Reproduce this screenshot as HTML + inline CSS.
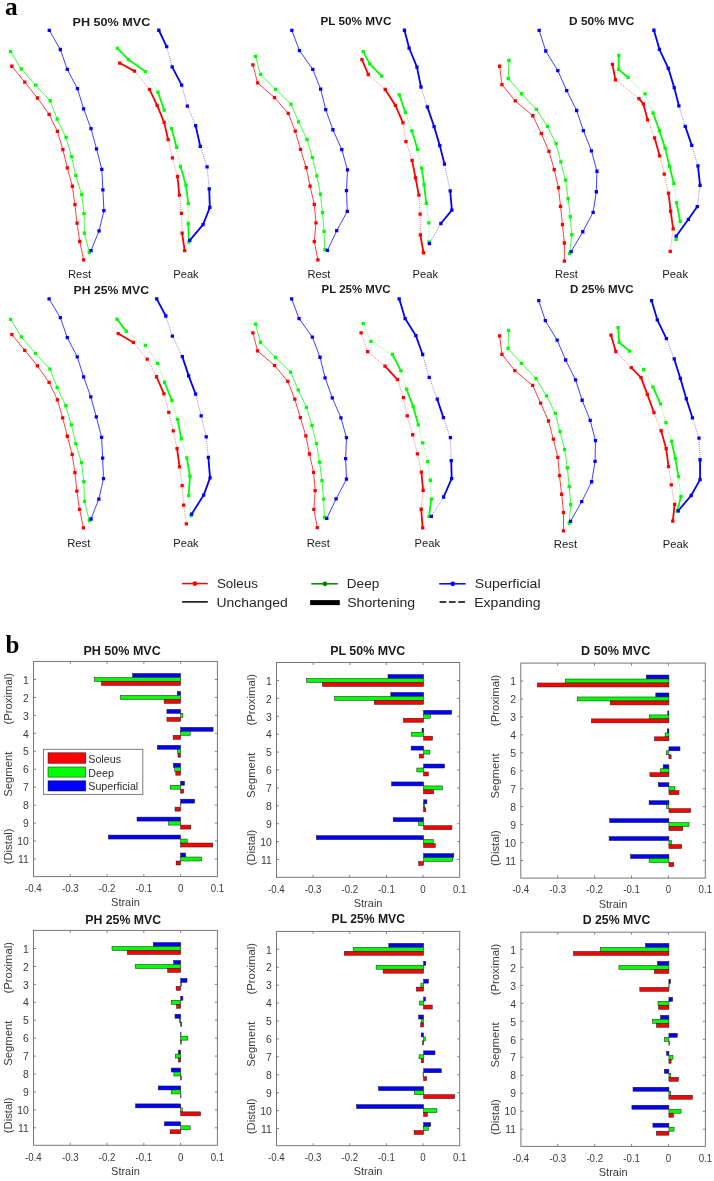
<!DOCTYPE html>
<html><head><meta charset="utf-8"><style>
html,body{margin:0;padding:0;background:#fff;}
svg{display:block;will-change:transform;}
</style></head><body>
<svg width="714" height="1181" viewBox="0 0 714 1181">
<rect width="714" height="1181" fill="#fff"/>
<path d="M11.85 66.24 L24.76 82.11 L37.46 97.99 L49.10 114.29 L57.35 131.43 L62.86 149.64 L67.30 167.84 L72.38 186.26 L74.92 204.68 L77.04 223.09 L79.79 241.51 L83.60 259.93" fill="none" stroke="#ff0000" stroke-width="0.75" stroke-linejoin="round"/>
<path d="M10.20 64.59h3.3v3.3h-3.3zM23.11 80.46h3.3v3.3h-3.3zM35.81 96.34h3.3v3.3h-3.3zM47.45 112.64h3.3v3.3h-3.3zM55.70 129.78h3.3v3.3h-3.3zM61.21 147.99h3.3v3.3h-3.3zM65.65 166.19h3.3v3.3h-3.3zM70.73 184.61h3.3v3.3h-3.3zM73.27 203.03h3.3v3.3h-3.3zM75.39 221.44h3.3v3.3h-3.3zM78.14 239.86h3.3v3.3h-3.3zM81.95 258.28h3.3v3.3h-3.3z" fill="#ff0000"/>
<path d="M10.58 51.63 L21.16 68.99 L35.34 85.08 L50.16 100.74 L57.14 119.16 L66.03 137.36 L71.53 156.63 L75.77 175.47 L81.69 194.52 L84.02 213.57 L84.44 233.26 L89.31 252.31" fill="none" stroke="#00ff00" stroke-width="0.75" stroke-linejoin="round"/>
<path d="M8.93 49.98h3.3v3.3h-3.3zM19.51 67.34h3.3v3.3h-3.3zM33.69 83.43h3.3v3.3h-3.3zM48.51 99.09h3.3v3.3h-3.3zM55.49 117.51h3.3v3.3h-3.3zM64.38 135.71h3.3v3.3h-3.3zM69.88 154.98h3.3v3.3h-3.3zM74.12 173.82h3.3v3.3h-3.3zM80.04 192.87h3.3v3.3h-3.3zM82.37 211.92h3.3v3.3h-3.3zM82.79 231.61h3.3v3.3h-3.3zM87.66 250.66h3.3v3.3h-3.3z" fill="#00ff00"/>
<path d="M49.31 30.46 L60.32 49.51 L67.30 69.41 L77.46 88.67 L83.60 108.78 L91.01 128.68 L96.51 148.79 L101.80 169.33 L102.86 189.86 L103.92 210.60 L99.05 230.93 L91.01 250.61" fill="none" stroke="#0000ff" stroke-width="0.75" stroke-linejoin="round"/>
<path d="M47.66 28.81h3.3v3.3h-3.3zM58.67 47.86h3.3v3.3h-3.3zM65.65 67.76h3.3v3.3h-3.3zM75.81 87.02h3.3v3.3h-3.3zM81.95 107.13h3.3v3.3h-3.3zM89.36 127.03h3.3v3.3h-3.3zM94.86 147.14h3.3v3.3h-3.3zM100.15 167.68h3.3v3.3h-3.3zM101.21 188.21h3.3v3.3h-3.3zM102.27 208.95h3.3v3.3h-3.3zM97.40 229.28h3.3v3.3h-3.3zM89.36 248.96h3.3v3.3h-3.3z" fill="#0000ff"/>
<path d="M134.50 71.10L149.52 89.31M168.15 139.69L172.38 157.90M172.38 157.90L177.46 176.52M179.37 195.15L181.48 213.36M181.48 213.36L182.12 233.04" fill="none" stroke="#ff0000" stroke-width="0.7" stroke-dasharray="0.9 1.1" opacity="0.75"/>
<path d="M119.68 63.06L134.50 71.10M149.52 89.31L157.14 105.40M157.14 105.40L164.13 122.33M164.13 122.33L168.15 139.69M177.46 176.52L179.37 195.15M182.12 233.04L184.66 250.61" fill="none" stroke="#ff0000" stroke-width="1.8" stroke-linecap="round"/>
<path d="M118.03 61.41h3.3v3.3h-3.3zM132.85 69.45h3.3v3.3h-3.3zM147.87 87.66h3.3v3.3h-3.3zM155.49 103.75h3.3v3.3h-3.3zM162.48 120.68h3.3v3.3h-3.3zM166.50 138.04h3.3v3.3h-3.3zM170.73 156.25h3.3v3.3h-3.3zM175.81 174.87h3.3v3.3h-3.3zM177.72 193.50h3.3v3.3h-3.3zM179.83 211.71h3.3v3.3h-3.3zM180.47 231.39h3.3v3.3h-3.3zM183.01 248.96h3.3v3.3h-3.3z" fill="#ff0000"/>
<path d="M145.29 71.53L157.99 92.27M164.13 110.05L171.53 128.68M176.61 147.31L180.42 166.36M188.25 203.62L188.25 223.52" fill="none" stroke="#00ff00" stroke-width="0.7" stroke-dasharray="0.9 1.1" opacity="0.75"/>
<path d="M117.35 48.45L128.57 59.67M128.57 59.67L145.29 71.53M157.99 92.27L164.13 110.05M171.53 128.68L176.61 147.31M180.42 166.36L185.93 185.20M185.93 185.20L188.25 203.62M188.25 223.52L188.89 242.15" fill="none" stroke="#00ff00" stroke-width="1.8" stroke-linecap="round"/>
<path d="M115.70 46.80h3.3v3.3h-3.3zM126.92 58.02h3.3v3.3h-3.3zM143.64 69.88h3.3v3.3h-3.3zM156.34 90.62h3.3v3.3h-3.3zM162.48 108.40h3.3v3.3h-3.3zM169.88 127.03h3.3v3.3h-3.3zM174.96 145.66h3.3v3.3h-3.3zM178.77 164.71h3.3v3.3h-3.3zM184.28 183.55h3.3v3.3h-3.3zM186.60 201.97h3.3v3.3h-3.3zM186.60 221.87h3.3v3.3h-3.3zM187.24 240.50h3.3v3.3h-3.3z" fill="#00ff00"/>
<path d="M166.67 46.55L172.17 66.87M181.69 85.08L187.41 106.03M187.41 106.03L195.66 125.72M200.32 146.46L207.09 166.79M207.09 166.79L209.21 188.80" fill="none" stroke="#0000ff" stroke-width="0.7" stroke-dasharray="0.9 1.1" opacity="0.75"/>
<path d="M158.84 30.25L166.67 46.55M172.17 66.87L181.69 85.08M195.66 125.72L200.32 146.46M209.21 188.80L209.84 207.43M209.84 207.43L203.07 224.58M203.07 224.58L189.74 240.45" fill="none" stroke="#0000ff" stroke-width="1.8" stroke-linecap="round"/>
<path d="M157.19 28.60h3.3v3.3h-3.3zM165.02 44.90h3.3v3.3h-3.3zM170.52 65.22h3.3v3.3h-3.3zM180.04 83.43h3.3v3.3h-3.3zM185.76 104.38h3.3v3.3h-3.3zM194.01 124.07h3.3v3.3h-3.3zM198.67 144.81h3.3v3.3h-3.3zM205.44 165.14h3.3v3.3h-3.3zM207.56 187.15h3.3v3.3h-3.3zM208.19 205.78h3.3v3.3h-3.3zM201.42 222.93h3.3v3.3h-3.3zM188.09 238.80h3.3v3.3h-3.3z" fill="#0000ff"/>
<path d="M252.91 64.97 L257.57 82.96 L274.50 97.57 L288.25 113.44 L295.24 131.22 L300.53 149.43 L306.24 167.63 L310.05 186.05 L314.29 204.47 L315.98 222.88 L314.29 241.72 L317.88 259.93" fill="none" stroke="#ff0000" stroke-width="0.75" stroke-linejoin="round"/>
<path d="M251.26 63.32h3.3v3.3h-3.3zM255.92 81.31h3.3v3.3h-3.3zM272.85 95.92h3.3v3.3h-3.3zM286.60 111.79h3.3v3.3h-3.3zM293.59 129.57h3.3v3.3h-3.3zM298.88 147.78h3.3v3.3h-3.3zM304.59 165.98h3.3v3.3h-3.3zM308.40 184.40h3.3v3.3h-3.3zM312.64 202.82h3.3v3.3h-3.3zM314.33 221.23h3.3v3.3h-3.3zM312.64 240.07h3.3v3.3h-3.3zM316.23 258.28h3.3v3.3h-3.3z" fill="#ff0000"/>
<path d="M255.45 56.29 L260.53 74.28 L275.56 89.31 L291.01 104.13 L298.62 121.91 L307.09 139.48 L312.38 157.68 L316.83 175.89 L320.42 194.09 L322.54 212.72 L324.02 231.35 L324.87 249.55" fill="none" stroke="#00ff00" stroke-width="0.75" stroke-linejoin="round"/>
<path d="M253.80 54.64h3.3v3.3h-3.3zM258.88 72.63h3.3v3.3h-3.3zM273.91 87.66h3.3v3.3h-3.3zM289.36 102.48h3.3v3.3h-3.3zM296.97 120.26h3.3v3.3h-3.3zM305.44 137.83h3.3v3.3h-3.3zM310.73 156.03h3.3v3.3h-3.3zM315.18 174.24h3.3v3.3h-3.3zM318.77 192.44h3.3v3.3h-3.3zM320.89 211.07h3.3v3.3h-3.3zM322.37 229.70h3.3v3.3h-3.3zM323.22 247.90h3.3v3.3h-3.3z" fill="#00ff00"/>
<path d="M291.85 30.46 L299.47 50.57 L312.80 69.41 L320.63 89.10 L325.71 109.63 L332.91 129.74 L341.80 149.64 L347.51 169.96 L346.46 190.71 L347.30 211.45 L336.72 230.71 L327.41 250.40" fill="none" stroke="#0000ff" stroke-width="0.75" stroke-linejoin="round"/>
<path d="M290.20 28.81h3.3v3.3h-3.3zM297.82 48.92h3.3v3.3h-3.3zM311.15 67.76h3.3v3.3h-3.3zM318.98 87.45h3.3v3.3h-3.3zM324.06 107.98h3.3v3.3h-3.3zM331.26 128.09h3.3v3.3h-3.3zM340.15 147.99h3.3v3.3h-3.3zM345.86 168.31h3.3v3.3h-3.3zM344.81 189.06h3.3v3.3h-3.3zM345.65 209.80h3.3v3.3h-3.3zM335.07 229.06h3.3v3.3h-3.3zM325.76 248.75h3.3v3.3h-3.3z" fill="#0000ff"/>
<path d="M368.28 74.49L385.21 89.52M402.99 122.97L405.95 141.60M405.95 141.60L412.09 160.44M418.86 195.15L420.13 214.20M420.13 214.20L420.34 234.95" fill="none" stroke="#ff0000" stroke-width="0.7" stroke-dasharray="0.9 1.1" opacity="0.75"/>
<path d="M361.93 59.67L368.28 74.49M385.21 89.52L395.37 105.40M395.37 105.40L402.99 122.97M412.09 160.44L415.48 177.79M415.48 177.79L418.86 195.15M420.34 234.95L423.52 252.73" fill="none" stroke="#ff0000" stroke-width="1.8" stroke-linecap="round"/>
<path d="M360.28 58.02h3.3v3.3h-3.3zM366.63 72.84h3.3v3.3h-3.3zM383.56 87.87h3.3v3.3h-3.3zM393.72 103.75h3.3v3.3h-3.3zM401.34 121.32h3.3v3.3h-3.3zM404.30 139.95h3.3v3.3h-3.3zM410.44 158.79h3.3v3.3h-3.3zM413.83 176.14h3.3v3.3h-3.3zM417.21 193.50h3.3v3.3h-3.3zM418.48 212.55h3.3v3.3h-3.3zM418.69 233.30h3.3v3.3h-3.3zM421.87 251.08h3.3v3.3h-3.3z" fill="#ff0000"/>
<path d="M381.61 76.18L399.18 94.81M405.32 112.38L411.88 130.80M417.59 149.43L421.61 168.06M426.27 203.41L428.81 222.88M428.81 222.88L429.02 241.93" fill="none" stroke="#00ff00" stroke-width="0.7" stroke-dasharray="0.9 1.1" opacity="0.75"/>
<path d="M363.20 51.63L369.76 63.91M369.76 63.91L381.61 76.18M399.18 94.81L405.32 112.38M411.88 130.80L417.59 149.43M421.61 168.06L424.15 184.78M424.15 184.78L426.27 203.41" fill="none" stroke="#00ff00" stroke-width="1.8" stroke-linecap="round"/>
<path d="M361.55 49.98h3.3v3.3h-3.3zM368.11 62.26h3.3v3.3h-3.3zM379.96 74.53h3.3v3.3h-3.3zM397.53 93.16h3.3v3.3h-3.3zM403.67 110.73h3.3v3.3h-3.3zM410.23 129.15h3.3v3.3h-3.3zM415.94 147.78h3.3v3.3h-3.3zM419.96 166.41h3.3v3.3h-3.3zM422.50 183.13h3.3v3.3h-3.3zM424.62 201.76h3.3v3.3h-3.3zM427.16 221.23h3.3v3.3h-3.3zM427.37 240.28h3.3v3.3h-3.3z" fill="#00ff00"/>
<path d="M420.98 86.98L427.33 106.88M444.47 164.03L450.19 190.92M440.87 223.52L429.44 243.63" fill="none" stroke="#0000ff" stroke-width="0.7" stroke-dasharray="0.9 1.1" opacity="0.75"/>
<path d="M404.47 30.25L409.13 48.03M409.13 48.03L416.96 67.08M416.96 67.08L420.98 86.98M427.33 106.88L434.10 126.57M434.10 126.57L439.81 145.62M439.81 145.62L444.47 164.03M450.19 190.92L451.88 210.18M451.88 210.18L440.87 223.52" fill="none" stroke="#0000ff" stroke-width="1.8" stroke-linecap="round"/>
<path d="M402.82 28.60h3.3v3.3h-3.3zM407.48 46.38h3.3v3.3h-3.3zM415.31 65.43h3.3v3.3h-3.3zM419.33 85.33h3.3v3.3h-3.3zM425.68 105.23h3.3v3.3h-3.3zM432.45 124.92h3.3v3.3h-3.3zM438.16 143.97h3.3v3.3h-3.3zM442.82 162.38h3.3v3.3h-3.3zM448.54 189.27h3.3v3.3h-3.3zM450.23 208.53h3.3v3.3h-3.3zM439.22 221.87h3.3v3.3h-3.3zM427.79 241.98h3.3v3.3h-3.3z" fill="#0000ff"/>
<path d="M499.60 66.24 L501.93 84.65 L515.26 100.95 L532.83 115.77 L541.30 133.55 L548.92 151.33 L554.21 169.54 L558.44 187.74 L560.56 206.37 L562.46 224.58 L564.37 242.99 L564.37 261.20" fill="none" stroke="#ff0000" stroke-width="0.75" stroke-linejoin="round"/>
<path d="M497.95 64.59h3.3v3.3h-3.3zM500.28 83.00h3.3v3.3h-3.3zM513.61 99.30h3.3v3.3h-3.3zM531.18 114.12h3.3v3.3h-3.3zM539.65 131.90h3.3v3.3h-3.3zM547.27 149.68h3.3v3.3h-3.3zM552.56 167.89h3.3v3.3h-3.3zM556.79 186.09h3.3v3.3h-3.3zM558.91 204.72h3.3v3.3h-3.3zM560.81 222.93h3.3v3.3h-3.3zM562.72 241.34h3.3v3.3h-3.3zM562.72 259.55h3.3v3.3h-3.3z" fill="#ff0000"/>
<path d="M508.92 60.52 L508.28 78.51 L521.61 93.75 L536.43 109.42 L547.43 126.35 L556.11 143.71 L560.77 161.92 L565.42 180.12 L568.17 198.54 L570.29 216.74 L571.77 234.74 L569.66 253.58" fill="none" stroke="#00ff00" stroke-width="0.75" stroke-linejoin="round"/>
<path d="M507.27 58.87h3.3v3.3h-3.3zM506.63 76.86h3.3v3.3h-3.3zM519.96 92.10h3.3v3.3h-3.3zM534.78 107.77h3.3v3.3h-3.3zM545.78 124.70h3.3v3.3h-3.3zM554.46 142.06h3.3v3.3h-3.3zM559.12 160.27h3.3v3.3h-3.3zM563.77 178.47h3.3v3.3h-3.3zM566.52 196.89h3.3v3.3h-3.3zM568.64 215.09h3.3v3.3h-3.3zM570.12 233.09h3.3v3.3h-3.3zM568.01 251.93h3.3v3.3h-3.3z" fill="#00ff00"/>
<path d="M539.18 30.46 L545.74 50.99 L557.80 70.68 L566.69 90.58 L576.64 110.48 L583.41 130.59 L591.46 150.91 L596.96 171.23 L596.32 191.76 L593.15 212.30 L582.78 231.77 L571.14 251.67" fill="none" stroke="#0000ff" stroke-width="0.75" stroke-linejoin="round"/>
<path d="M537.53 28.81h3.3v3.3h-3.3zM544.09 49.34h3.3v3.3h-3.3zM556.15 69.03h3.3v3.3h-3.3zM565.04 88.93h3.3v3.3h-3.3zM574.99 108.83h3.3v3.3h-3.3zM581.76 128.94h3.3v3.3h-3.3zM589.81 149.26h3.3v3.3h-3.3zM595.31 169.58h3.3v3.3h-3.3zM594.67 190.11h3.3v3.3h-3.3zM591.50 210.65h3.3v3.3h-3.3zM581.13 230.12h3.3v3.3h-3.3zM569.49 250.02h3.3v3.3h-3.3z" fill="#0000ff"/>
<path d="M615.40 79.78L638.89 98.62M647.57 119.79L654.55 137.79M659.63 155.78L664.29 174.20M664.29 174.20L668.52 193.25M673.17 228.81L670.21 251.46" fill="none" stroke="#ff0000" stroke-width="0.7" stroke-dasharray="0.9 1.1" opacity="0.75"/>
<path d="M612.43 64.33L615.40 79.78M638.89 98.62L643.33 103.92M643.33 103.92L647.57 119.79M654.55 137.79L659.63 155.78M668.52 193.25L670.63 211.24M670.63 211.24L673.17 228.81" fill="none" stroke="#ff0000" stroke-width="1.8" stroke-linecap="round"/>
<path d="M610.78 62.68h3.3v3.3h-3.3zM613.75 78.13h3.3v3.3h-3.3zM637.24 96.97h3.3v3.3h-3.3zM641.68 102.27h3.3v3.3h-3.3zM645.92 118.14h3.3v3.3h-3.3zM652.90 136.14h3.3v3.3h-3.3zM657.98 154.13h3.3v3.3h-3.3zM662.64 172.55h3.3v3.3h-3.3zM666.87 191.60h3.3v3.3h-3.3zM668.98 209.59h3.3v3.3h-3.3zM671.52 227.16h3.3v3.3h-3.3zM668.56 249.81h3.3v3.3h-3.3z" fill="#ff0000"/>
<path d="M628.10 77.45L645.03 93.97M645.03 93.97L653.07 113.02M673.81 183.51L676.56 202.56M680.16 221.40L676.14 239.39" fill="none" stroke="#00ff00" stroke-width="0.7" stroke-dasharray="0.9 1.1" opacity="0.75"/>
<path d="M618.78 55.44L618.57 69.41M618.57 69.41L628.10 77.45M653.07 113.02L659.42 130.80M659.42 130.80L665.13 148.37M665.13 148.37L669.58 166.36M669.58 166.36L673.81 183.51M676.56 202.56L680.16 221.40" fill="none" stroke="#00ff00" stroke-width="1.8" stroke-linecap="round"/>
<path d="M617.13 53.79h3.3v3.3h-3.3zM616.92 67.76h3.3v3.3h-3.3zM626.45 75.80h3.3v3.3h-3.3zM643.38 92.32h3.3v3.3h-3.3zM651.42 111.37h3.3v3.3h-3.3zM657.77 129.15h3.3v3.3h-3.3zM663.48 146.72h3.3v3.3h-3.3zM667.93 164.71h3.3v3.3h-3.3zM672.16 181.86h3.3v3.3h-3.3zM674.91 200.91h3.3v3.3h-3.3zM678.51 219.75h3.3v3.3h-3.3zM674.49 237.74h3.3v3.3h-3.3z" fill="#00ff00"/>
<path d="M678.89 105.82L685.24 126.35M691.80 145.41L697.94 165.94M700.05 185.41L697.30 206.58" fill="none" stroke="#0000ff" stroke-width="0.7" stroke-dasharray="0.9 1.1" opacity="0.75"/>
<path d="M653.92 30.25L659.42 49.30M659.42 49.30L668.31 68.35M668.31 68.35L674.23 87.62M674.23 87.62L678.89 105.82M685.24 126.35L691.80 145.41M697.94 165.94L700.05 185.41M697.30 206.58L688.41 219.28M688.41 219.28L676.14 236.22" fill="none" stroke="#0000ff" stroke-width="1.8" stroke-linecap="round"/>
<path d="M652.27 28.60h3.3v3.3h-3.3zM657.77 47.65h3.3v3.3h-3.3zM666.66 66.70h3.3v3.3h-3.3zM672.58 85.97h3.3v3.3h-3.3zM677.24 104.17h3.3v3.3h-3.3zM683.59 124.70h3.3v3.3h-3.3zM690.15 143.76h3.3v3.3h-3.3zM696.29 164.29h3.3v3.3h-3.3zM698.40 183.76h3.3v3.3h-3.3zM695.65 204.93h3.3v3.3h-3.3zM686.76 217.63h3.3v3.3h-3.3zM674.49 234.57h3.3v3.3h-3.3z" fill="#0000ff"/>
<path d="M11.85 334.62 L24.76 350.29 L37.46 365.95 L49.10 382.46 L57.35 399.82 L62.65 417.81 L67.30 436.23 L72.17 454.44 L74.92 472.64 L76.83 491.06 L79.58 509.47 L83.39 527.89" fill="none" stroke="#ff0000" stroke-width="0.75" stroke-linejoin="round"/>
<path d="M10.20 332.97h3.3v3.3h-3.3zM23.11 348.64h3.3v3.3h-3.3zM35.81 364.30h3.3v3.3h-3.3zM47.45 380.81h3.3v3.3h-3.3zM55.70 398.17h3.3v3.3h-3.3zM61.00 416.16h3.3v3.3h-3.3zM65.65 434.58h3.3v3.3h-3.3zM70.52 452.79h3.3v3.3h-3.3zM73.27 470.99h3.3v3.3h-3.3zM75.18 489.41h3.3v3.3h-3.3zM77.93 507.82h3.3v3.3h-3.3zM81.74 526.24h3.3v3.3h-3.3z" fill="#ff0000"/>
<path d="M10.58 319.38 L21.38 336.95 L35.56 353.46 L49.95 369.13 L57.14 387.54 L65.82 405.75 L71.32 424.80 L75.77 443.64 L81.48 462.69 L83.81 481.74 L84.44 501.43 L89.31 520.48" fill="none" stroke="#00ff00" stroke-width="0.75" stroke-linejoin="round"/>
<path d="M8.93 317.73h3.3v3.3h-3.3zM19.73 335.30h3.3v3.3h-3.3zM33.91 351.81h3.3v3.3h-3.3zM48.30 367.48h3.3v3.3h-3.3zM55.49 385.89h3.3v3.3h-3.3zM64.17 404.10h3.3v3.3h-3.3zM69.67 423.15h3.3v3.3h-3.3zM74.12 441.99h3.3v3.3h-3.3zM79.83 461.04h3.3v3.3h-3.3zM82.16 480.09h3.3v3.3h-3.3zM82.79 499.78h3.3v3.3h-3.3zM87.66 518.83h3.3v3.3h-3.3z" fill="#00ff00"/>
<path d="M49.10 298.85 L60.32 317.69 L67.30 337.59 L77.25 356.85 L83.60 376.96 L90.79 396.86 L96.30 416.97 L101.59 437.29 L102.65 458.03 L103.49 478.57 L98.84 499.10 L91.01 519.00" fill="none" stroke="#0000ff" stroke-width="0.75" stroke-linejoin="round"/>
<path d="M47.45 297.20h3.3v3.3h-3.3zM58.67 316.04h3.3v3.3h-3.3zM65.65 335.94h3.3v3.3h-3.3zM75.60 355.20h3.3v3.3h-3.3zM81.95 375.31h3.3v3.3h-3.3zM89.14 395.21h3.3v3.3h-3.3zM94.65 415.32h3.3v3.3h-3.3zM99.94 435.64h3.3v3.3h-3.3zM101.00 456.38h3.3v3.3h-3.3zM101.84 476.92h3.3v3.3h-3.3zM97.19 497.45h3.3v3.3h-3.3zM89.36 517.35h3.3v3.3h-3.3z" fill="#0000ff"/>
<path d="M133.44 342.45L147.20 359.18M147.20 359.18L156.51 376.75M163.92 393.89L168.78 412.31M168.78 412.31L173.23 430.94M173.23 430.94L177.04 448.72M179.58 466.93L182.12 485.55M182.12 485.55L183.60 505.03M183.60 505.03L186.35 523.87" fill="none" stroke="#ff0000" stroke-width="0.7" stroke-dasharray="0.9 1.1" opacity="0.75"/>
<path d="M118.20 333.56L133.44 342.45M156.51 376.75L163.92 393.89M177.04 448.72L179.58 466.93" fill="none" stroke="#ff0000" stroke-width="1.8" stroke-linecap="round"/>
<path d="M116.55 331.91h3.3v3.3h-3.3zM131.79 340.80h3.3v3.3h-3.3zM145.55 357.53h3.3v3.3h-3.3zM154.86 375.10h3.3v3.3h-3.3zM162.27 392.24h3.3v3.3h-3.3zM167.13 410.66h3.3v3.3h-3.3zM171.58 429.29h3.3v3.3h-3.3zM175.39 447.07h3.3v3.3h-3.3zM177.93 465.28h3.3v3.3h-3.3zM180.47 483.90h3.3v3.3h-3.3zM181.95 503.38h3.3v3.3h-3.3zM184.70 522.22h3.3v3.3h-3.3z" fill="#ff0000"/>
<path d="M126.24 331.24L145.29 345.42M145.29 345.42L157.57 363.41M157.57 363.41L164.55 382.25M171.96 400.67L177.46 419.30M181.27 438.77L186.77 457.82M188.68 495.71L191.01 515.61" fill="none" stroke="#00ff00" stroke-width="0.7" stroke-dasharray="0.9 1.1" opacity="0.75"/>
<path d="M116.93 319.17L126.24 331.24M164.55 382.25L171.96 400.67M177.46 419.30L181.27 438.77M186.77 457.82L189.95 476.24M189.95 476.24L188.68 495.71" fill="none" stroke="#00ff00" stroke-width="1.8" stroke-linecap="round"/>
<path d="M115.28 317.52h3.3v3.3h-3.3zM124.59 329.59h3.3v3.3h-3.3zM143.64 343.77h3.3v3.3h-3.3zM155.92 361.76h3.3v3.3h-3.3zM162.90 380.60h3.3v3.3h-3.3zM170.31 399.02h3.3v3.3h-3.3zM175.81 417.65h3.3v3.3h-3.3zM179.62 437.12h3.3v3.3h-3.3zM185.12 456.17h3.3v3.3h-3.3zM188.30 474.59h3.3v3.3h-3.3zM187.03 494.06h3.3v3.3h-3.3zM189.36 513.96h3.3v3.3h-3.3z" fill="#00ff00"/>
<path d="M165.82 315.99L172.38 336.10M172.38 336.10L182.33 356.64M195.66 394.11L201.16 415.91M201.16 415.91L206.24 436.87M206.24 436.87L208.36 457.40" fill="none" stroke="#0000ff" stroke-width="0.7" stroke-dasharray="0.9 1.1" opacity="0.75"/>
<path d="M156.72 298.85L165.82 315.99M182.33 356.64L188.68 375.90M188.68 375.90L195.66 394.11M208.36 457.40L210.05 477.93M210.05 477.93L203.70 495.08M203.70 495.08L191.64 514.13" fill="none" stroke="#0000ff" stroke-width="1.8" stroke-linecap="round"/>
<path d="M155.07 297.20h3.3v3.3h-3.3zM164.17 314.34h3.3v3.3h-3.3zM170.73 334.45h3.3v3.3h-3.3zM180.68 354.99h3.3v3.3h-3.3zM187.03 374.25h3.3v3.3h-3.3zM194.01 392.46h3.3v3.3h-3.3zM199.51 414.26h3.3v3.3h-3.3zM204.59 435.22h3.3v3.3h-3.3zM206.71 455.75h3.3v3.3h-3.3zM208.40 476.28h3.3v3.3h-3.3zM202.05 493.43h3.3v3.3h-3.3zM189.99 512.48h3.3v3.3h-3.3z" fill="#0000ff"/>
<path d="M252.91 332.93 L257.57 350.92 L274.50 365.53 L287.83 381.40 L294.81 399.19 L300.32 417.60 L305.82 435.81 L309.42 454.01 L313.65 472.43 L315.13 490.63 L313.86 509.47 L317.25 527.68" fill="none" stroke="#ff0000" stroke-width="0.75" stroke-linejoin="round"/>
<path d="M251.26 331.28h3.3v3.3h-3.3zM255.92 349.27h3.3v3.3h-3.3zM272.85 363.88h3.3v3.3h-3.3zM286.18 379.75h3.3v3.3h-3.3zM293.16 397.54h3.3v3.3h-3.3zM298.67 415.95h3.3v3.3h-3.3zM304.17 434.16h3.3v3.3h-3.3zM307.77 452.36h3.3v3.3h-3.3zM312.00 470.78h3.3v3.3h-3.3zM313.48 488.98h3.3v3.3h-3.3zM312.21 507.82h3.3v3.3h-3.3zM315.60 526.03h3.3v3.3h-3.3z" fill="#ff0000"/>
<path d="M255.45 324.04 L260.53 342.24 L275.56 357.48 L290.58 372.09 L298.20 389.87 L306.46 407.44 L311.96 425.44 L316.40 443.64 L319.58 462.06 L321.90 480.69 L323.60 499.10 L324.44 517.52" fill="none" stroke="#00ff00" stroke-width="0.75" stroke-linejoin="round"/>
<path d="M253.80 322.39h3.3v3.3h-3.3zM258.88 340.59h3.3v3.3h-3.3zM273.91 355.83h3.3v3.3h-3.3zM288.93 370.44h3.3v3.3h-3.3zM296.55 388.22h3.3v3.3h-3.3zM304.81 405.79h3.3v3.3h-3.3zM310.31 423.79h3.3v3.3h-3.3zM314.75 441.99h3.3v3.3h-3.3zM317.93 460.41h3.3v3.3h-3.3zM320.25 479.04h3.3v3.3h-3.3zM321.95 497.45h3.3v3.3h-3.3zM322.79 515.87h3.3v3.3h-3.3z" fill="#00ff00"/>
<path d="M291.64 298.85 L299.05 318.53 L312.38 337.16 L320.00 357.27 L325.08 377.81 L332.28 397.92 L340.95 417.81 L346.46 437.71 L345.61 458.67 L346.46 479.20 L336.08 498.89 L326.77 518.37" fill="none" stroke="#0000ff" stroke-width="0.75" stroke-linejoin="round"/>
<path d="M289.99 297.20h3.3v3.3h-3.3zM297.40 316.88h3.3v3.3h-3.3zM310.73 335.51h3.3v3.3h-3.3zM318.35 355.62h3.3v3.3h-3.3zM323.43 376.16h3.3v3.3h-3.3zM330.63 396.27h3.3v3.3h-3.3zM339.30 416.16h3.3v3.3h-3.3zM344.81 436.06h3.3v3.3h-3.3zM343.96 457.02h3.3v3.3h-3.3zM344.81 477.55h3.3v3.3h-3.3zM334.43 497.24h3.3v3.3h-3.3zM325.12 516.72h3.3v3.3h-3.3z" fill="#0000ff"/>
<path d="M361.08 332.93L367.65 351.56M367.65 351.56L385.00 366.16M397.49 379.71L403.41 397.70M403.41 397.70L407.22 415.91M407.22 415.91L412.72 434.75M412.72 434.75L417.38 453.80M417.38 453.80L421.40 472.22M423.10 490.42L421.19 509.26" fill="none" stroke="#ff0000" stroke-width="0.7" stroke-dasharray="0.9 1.1" opacity="0.75"/>
<path d="M385.00 366.16L397.49 379.71M421.40 472.22L423.10 490.42M421.19 509.26L422.67 527.89" fill="none" stroke="#ff0000" stroke-width="1.8" stroke-linecap="round"/>
<path d="M359.43 331.28h3.3v3.3h-3.3zM366.00 349.91h3.3v3.3h-3.3zM383.35 364.51h3.3v3.3h-3.3zM395.84 378.06h3.3v3.3h-3.3zM401.76 396.05h3.3v3.3h-3.3zM405.57 414.26h3.3v3.3h-3.3zM411.07 433.10h3.3v3.3h-3.3zM415.73 452.15h3.3v3.3h-3.3zM419.75 470.57h3.3v3.3h-3.3zM421.45 488.77h3.3v3.3h-3.3zM419.54 507.61h3.3v3.3h-3.3zM421.02 526.24h3.3v3.3h-3.3z" fill="#ff0000"/>
<path d="M363.20 323.61L370.82 341.40M370.82 341.40L392.41 354.52M400.87 370.82L406.59 389.24M418.23 424.80L422.67 442.79M422.67 442.79L427.75 461.63M427.75 461.63L430.29 480.26M430.29 480.26L431.35 499.10" fill="none" stroke="#00ff00" stroke-width="0.7" stroke-dasharray="0.9 1.1" opacity="0.75"/>
<path d="M392.41 354.52L400.87 370.82M406.59 389.24L413.15 406.60M413.15 406.60L418.23 424.80M431.35 499.10L429.02 516.46" fill="none" stroke="#00ff00" stroke-width="1.8" stroke-linecap="round"/>
<path d="M361.55 321.96h3.3v3.3h-3.3zM369.17 339.75h3.3v3.3h-3.3zM390.76 352.87h3.3v3.3h-3.3zM399.22 369.17h3.3v3.3h-3.3zM404.94 387.59h3.3v3.3h-3.3zM411.50 404.95h3.3v3.3h-3.3zM416.58 423.15h3.3v3.3h-3.3zM421.02 441.14h3.3v3.3h-3.3zM426.10 459.98h3.3v3.3h-3.3zM428.64 478.61h3.3v3.3h-3.3zM429.70 497.45h3.3v3.3h-3.3zM427.37 514.81h3.3v3.3h-3.3z" fill="#00ff00"/>
<path d="M422.67 354.52L429.23 377.38M429.23 377.38L437.28 399.19M443.41 417.60L450.40 437.71M450.40 437.71L451.24 460.58M443.62 496.99L431.35 516.46" fill="none" stroke="#0000ff" stroke-width="0.7" stroke-dasharray="0.9 1.1" opacity="0.75"/>
<path d="M399.18 298.85L405.11 318.53M405.11 318.53L415.90 335.68M415.90 335.68L422.67 354.52M437.28 399.19L443.41 417.60M451.24 460.58L451.67 478.57M451.67 478.57L443.62 496.99" fill="none" stroke="#0000ff" stroke-width="1.8" stroke-linecap="round"/>
<path d="M397.53 297.20h3.3v3.3h-3.3zM403.46 316.88h3.3v3.3h-3.3zM414.25 334.03h3.3v3.3h-3.3zM421.02 352.87h3.3v3.3h-3.3zM427.58 375.73h3.3v3.3h-3.3zM435.63 397.54h3.3v3.3h-3.3zM441.76 415.95h3.3v3.3h-3.3zM448.75 436.06h3.3v3.3h-3.3zM449.59 458.93h3.3v3.3h-3.3zM450.02 476.92h3.3v3.3h-3.3zM441.97 495.34h3.3v3.3h-3.3zM429.70 514.81h3.3v3.3h-3.3z" fill="#0000ff"/>
<path d="M499.60 335.89 L501.93 354.31 L514.84 370.61 L532.62 385.43 L540.66 403.21 L548.49 420.99 L553.36 439.20 L557.80 457.40 L559.50 475.60 L561.61 494.23 L563.52 512.65 L563.52 530.85" fill="none" stroke="#ff0000" stroke-width="0.75" stroke-linejoin="round"/>
<path d="M497.95 334.24h3.3v3.3h-3.3zM500.28 352.66h3.3v3.3h-3.3zM513.19 368.96h3.3v3.3h-3.3zM530.97 383.78h3.3v3.3h-3.3zM539.01 401.56h3.3v3.3h-3.3zM546.84 419.34h3.3v3.3h-3.3zM551.71 437.55h3.3v3.3h-3.3zM556.15 455.75h3.3v3.3h-3.3zM557.85 473.95h3.3v3.3h-3.3zM559.96 492.58h3.3v3.3h-3.3zM561.87 511.00h3.3v3.3h-3.3zM561.87 529.20h3.3v3.3h-3.3z" fill="#ff0000"/>
<path d="M508.49 330.39 L508.07 348.38 L521.40 363.41 L536.01 378.65 L546.59 395.80 L555.26 413.37 L559.92 431.36 L564.58 449.57 L567.33 467.77 L569.23 486.40 L570.71 504.61 L569.23 523.02" fill="none" stroke="#00ff00" stroke-width="0.75" stroke-linejoin="round"/>
<path d="M506.84 328.74h3.3v3.3h-3.3zM506.42 346.73h3.3v3.3h-3.3zM519.75 361.76h3.3v3.3h-3.3zM534.36 377.00h3.3v3.3h-3.3zM544.94 394.15h3.3v3.3h-3.3zM553.61 411.72h3.3v3.3h-3.3zM558.27 429.71h3.3v3.3h-3.3zM562.93 447.92h3.3v3.3h-3.3zM565.68 466.12h3.3v3.3h-3.3zM567.58 484.75h3.3v3.3h-3.3zM569.06 502.96h3.3v3.3h-3.3zM567.58 521.37h3.3v3.3h-3.3z" fill="#00ff00"/>
<path d="M538.76 300.54 L545.32 320.65 L557.17 340.13 L565.63 360.02 L575.58 379.92 L582.14 400.24 L590.19 420.36 L595.48 440.68 L595.05 461.42 L591.67 481.74 L581.72 501.64 L570.50 521.33" fill="none" stroke="#0000ff" stroke-width="0.75" stroke-linejoin="round"/>
<path d="M537.11 298.89h3.3v3.3h-3.3zM543.67 319.00h3.3v3.3h-3.3zM555.52 338.48h3.3v3.3h-3.3zM563.98 358.37h3.3v3.3h-3.3zM573.93 378.27h3.3v3.3h-3.3zM580.49 398.59h3.3v3.3h-3.3zM588.54 418.71h3.3v3.3h-3.3zM593.83 439.03h3.3v3.3h-3.3zM593.40 459.77h3.3v3.3h-3.3zM590.02 480.09h3.3v3.3h-3.3zM580.07 499.99h3.3v3.3h-3.3zM568.85 519.68h3.3v3.3h-3.3z" fill="#0000ff"/>
<path d="M615.82 351.56L631.27 367.65M653.92 412.52L661.11 430.73M668.52 466.71L671.27 484.92M671.27 484.92L674.66 504.39" fill="none" stroke="#ff0000" stroke-width="0.7" stroke-dasharray="0.9 1.1" opacity="0.75"/>
<path d="M610.95 335.05L615.82 351.56M631.27 367.65L641.01 377.59M641.01 377.59L647.35 394.32M647.35 394.32L653.92 412.52M661.11 430.73L666.19 448.72M666.19 448.72L668.52 466.71M674.66 504.39L672.75 521.12" fill="none" stroke="#ff0000" stroke-width="1.8" stroke-linecap="round"/>
<path d="M609.30 333.40h3.3v3.3h-3.3zM614.17 349.91h3.3v3.3h-3.3zM629.62 366.00h3.3v3.3h-3.3zM639.36 375.94h3.3v3.3h-3.3zM645.70 392.67h3.3v3.3h-3.3zM652.27 410.87h3.3v3.3h-3.3zM659.46 429.08h3.3v3.3h-3.3zM664.54 447.07h3.3v3.3h-3.3zM666.87 465.06h3.3v3.3h-3.3zM669.62 483.27h3.3v3.3h-3.3zM673.01 502.74h3.3v3.3h-3.3zM671.10 519.47h3.3v3.3h-3.3z" fill="#ff0000"/>
<path d="M629.58 351.13L643.76 369.76M643.76 369.76L652.86 386.91M660.48 403.84L665.98 422.68M665.98 422.68L671.48 441.10M678.47 476.66L681.01 496.35" fill="none" stroke="#00ff00" stroke-width="0.7" stroke-dasharray="0.9 1.1" opacity="0.75"/>
<path d="M618.15 327.64L619.21 342.45M619.21 342.45L629.58 351.13M652.86 386.91L660.48 403.84M671.48 441.10L675.29 458.46M675.29 458.46L678.47 476.66M681.01 496.35L677.20 511.17" fill="none" stroke="#00ff00" stroke-width="1.8" stroke-linecap="round"/>
<path d="M616.50 325.99h3.3v3.3h-3.3zM617.56 340.80h3.3v3.3h-3.3zM627.93 349.48h3.3v3.3h-3.3zM642.11 368.11h3.3v3.3h-3.3zM651.21 385.26h3.3v3.3h-3.3zM658.83 402.19h3.3v3.3h-3.3zM664.33 421.03h3.3v3.3h-3.3zM669.83 439.45h3.3v3.3h-3.3zM673.64 456.81h3.3v3.3h-3.3zM676.82 475.01h3.3v3.3h-3.3zM679.36 494.70h3.3v3.3h-3.3zM675.55 509.52h3.3v3.3h-3.3z" fill="#00ff00"/>
<path d="M666.40 338.64L674.23 358.97M692.43 417.81L698.99 438.14M698.99 438.14L700.05 459.73" fill="none" stroke="#0000ff" stroke-width="0.7" stroke-dasharray="0.9 1.1" opacity="0.75"/>
<path d="M651.59 300.54L657.30 319.80M657.30 319.80L666.40 338.64M674.23 358.97L680.37 378.44M680.37 378.44L686.30 398.76M686.30 398.76L692.43 417.81M700.05 459.73L700.05 479.63M700.05 479.63L691.16 495.50M691.16 495.50L678.25 510.74" fill="none" stroke="#0000ff" stroke-width="1.8" stroke-linecap="round"/>
<path d="M649.94 298.89h3.3v3.3h-3.3zM655.65 318.15h3.3v3.3h-3.3zM664.75 336.99h3.3v3.3h-3.3zM672.58 357.32h3.3v3.3h-3.3zM678.72 376.79h3.3v3.3h-3.3zM684.65 397.11h3.3v3.3h-3.3zM690.78 416.16h3.3v3.3h-3.3zM697.34 436.49h3.3v3.3h-3.3zM698.40 458.08h3.3v3.3h-3.3zM698.40 477.98h3.3v3.3h-3.3zM689.51 493.85h3.3v3.3h-3.3zM676.60 509.09h3.3v3.3h-3.3z" fill="#0000ff"/>
<text x="5.08" y="14.60" font-family='"Liberation Serif", serif' font-weight="bold" font-size="26" fill="#000" textLength="12.70" lengthAdjust="spacingAndGlyphs">a</text>
<text x="72.56" y="25.80" font-family='"Liberation Sans", sans-serif' font-weight="bold" font-size="10.9" fill="#1a1a1a" textLength="77.69" lengthAdjust="spacingAndGlyphs">PH 50% MVC</text>
<text x="320.52" y="25.40" font-family='"Liberation Sans", sans-serif' font-weight="bold" font-size="10.9" fill="#1a1a1a" textLength="70.90" lengthAdjust="spacingAndGlyphs">PL 50% MVC</text>
<text x="569.11" y="25.40" font-family='"Liberation Sans", sans-serif' font-weight="bold" font-size="10.9" fill="#1a1a1a" textLength="65.32" lengthAdjust="spacingAndGlyphs">D 50% MVC</text>
<text x="73.48" y="294.00" font-family='"Liberation Sans", sans-serif' font-weight="bold" font-size="10.9" fill="#1a1a1a" textLength="75.55" lengthAdjust="spacingAndGlyphs">PH 25% MVC</text>
<text x="321.64" y="293.30" font-family='"Liberation Sans", sans-serif' font-weight="bold" font-size="10.9" fill="#1a1a1a" textLength="68.97" lengthAdjust="spacingAndGlyphs">PL 25% MVC</text>
<text x="570.03" y="293.30" font-family='"Liberation Sans", sans-serif' font-weight="bold" font-size="10.9" fill="#1a1a1a" textLength="63.59" lengthAdjust="spacingAndGlyphs">D 25% MVC</text>
<text x="67.97" y="278.20" font-family='"Liberation Sans", sans-serif' font-weight="normal" font-size="11" fill="#1a1a1a" textLength="23.21" lengthAdjust="spacingAndGlyphs">Rest</text>
<text x="173.39" y="278.20" font-family='"Liberation Sans", sans-serif' font-weight="normal" font-size="11" fill="#1a1a1a" textLength="25.29" lengthAdjust="spacingAndGlyphs">Peak</text>
<text x="307.49" y="278.20" font-family='"Liberation Sans", sans-serif' font-weight="normal" font-size="11" fill="#1a1a1a" textLength="22.89" lengthAdjust="spacingAndGlyphs">Rest</text>
<text x="412.58" y="278.20" font-family='"Liberation Sans", sans-serif' font-weight="normal" font-size="11" fill="#1a1a1a" textLength="25.61" lengthAdjust="spacingAndGlyphs">Peak</text>
<text x="555.09" y="278.20" font-family='"Liberation Sans", sans-serif' font-weight="normal" font-size="11" fill="#1a1a1a" textLength="22.89" lengthAdjust="spacingAndGlyphs">Rest</text>
<text x="662.17" y="278.20" font-family='"Liberation Sans", sans-serif' font-weight="normal" font-size="11" fill="#1a1a1a" textLength="25.92" lengthAdjust="spacingAndGlyphs">Peak</text>
<text x="67.17" y="546.60" font-family='"Liberation Sans", sans-serif' font-weight="normal" font-size="11" fill="#1a1a1a" textLength="23.21" lengthAdjust="spacingAndGlyphs">Rest</text>
<text x="173.39" y="546.60" font-family='"Liberation Sans", sans-serif' font-weight="normal" font-size="11" fill="#1a1a1a" textLength="25.29" lengthAdjust="spacingAndGlyphs">Peak</text>
<text x="306.67" y="546.60" font-family='"Liberation Sans", sans-serif' font-weight="normal" font-size="11" fill="#1a1a1a" textLength="23.21" lengthAdjust="spacingAndGlyphs">Rest</text>
<text x="414.59" y="546.60" font-family='"Liberation Sans", sans-serif' font-weight="normal" font-size="11" fill="#1a1a1a" textLength="25.40" lengthAdjust="spacingAndGlyphs">Peak</text>
<text x="553.77" y="547.70" font-family='"Liberation Sans", sans-serif' font-weight="normal" font-size="11" fill="#1a1a1a" textLength="23.42" lengthAdjust="spacingAndGlyphs">Rest</text>
<text x="662.68" y="547.70" font-family='"Liberation Sans", sans-serif' font-weight="normal" font-size="11" fill="#1a1a1a" textLength="25.61" lengthAdjust="spacingAndGlyphs">Peak</text>
<g>
<path d="M182.1 583.6H207.8" stroke="#ff0000" stroke-width="1.5"/><circle cx="194.8" cy="583.6" r="2.4" fill="#ff0000"/>
<path d="M311.3 583.8H337.8" stroke="#008000" stroke-width="1.5"/><circle cx="324.9" cy="583.8" r="2.4" fill="#008000"/>
<path d="M439.2 583.8H465.6" stroke="#0000ff" stroke-width="1.5"/><circle cx="452.7" cy="583.8" r="2.4" fill="#0000ff"/>
<path d="M182.1 601.9H207.8" stroke="#000" stroke-width="1.5"/>
<path d="M310.1 602.6H339.8" stroke="#000" stroke-width="5"/>
<path d="M439.6 601.9H465" stroke="#000" stroke-width="1.5" stroke-dasharray="6.7 2.65"/>
</g>
<text x="216.89" y="588.20" font-family='"Liberation Sans", sans-serif' font-weight="normal" font-size="13.7" fill="#262626" textLength="40.99" lengthAdjust="spacingAndGlyphs">Soleus</text>
<text x="216.43" y="606.60" font-family='"Liberation Sans", sans-serif' font-weight="normal" font-size="13.7" fill="#262626" textLength="71.27" lengthAdjust="spacingAndGlyphs">Unchanged</text>
<text x="346.79" y="588.20" font-family='"Liberation Sans", sans-serif' font-weight="normal" font-size="13.7" fill="#262626" textLength="32.49" lengthAdjust="spacingAndGlyphs">Deep</text>
<text x="347.26" y="606.60" font-family='"Liberation Sans", sans-serif' font-weight="normal" font-size="13.7" fill="#262626" textLength="67.94" lengthAdjust="spacingAndGlyphs">Shortening</text>
<text x="474.76" y="588.20" font-family='"Liberation Sans", sans-serif' font-weight="normal" font-size="13.7" fill="#262626" textLength="65.78" lengthAdjust="spacingAndGlyphs">Superficial</text>
<text x="474.25" y="606.60" font-family='"Liberation Sans", sans-serif' font-weight="normal" font-size="13.7" fill="#262626" textLength="66.25" lengthAdjust="spacingAndGlyphs">Expanding</text>
<text x="5.58" y="652.80" font-family='"Liberation Serif", serif' font-weight="bold" font-size="24.8" fill="#000" textLength="13.93" lengthAdjust="spacingAndGlyphs">b</text>
<rect x="132.60" y="673.47" width="48.00" height="3.99" fill="#0000ff" stroke="#1a1a1a" stroke-width="0.5"/>
<rect x="94.30" y="677.46" width="86.30" height="3.99" fill="#00ff00" stroke="#1a1a1a" stroke-width="0.5"/>
<rect x="101.40" y="681.44" width="79.20" height="3.99" fill="#ff0000" stroke="#1a1a1a" stroke-width="0.5"/>
<rect x="177.20" y="691.42" width="3.40" height="3.99" fill="#0000ff" stroke="#1a1a1a" stroke-width="0.5"/>
<rect x="120.40" y="695.41" width="60.20" height="3.99" fill="#00ff00" stroke="#1a1a1a" stroke-width="0.5"/>
<rect x="164.10" y="699.40" width="16.50" height="3.99" fill="#ff0000" stroke="#1a1a1a" stroke-width="0.5"/>
<rect x="166.90" y="709.38" width="13.70" height="3.99" fill="#0000ff" stroke="#1a1a1a" stroke-width="0.5"/>
<rect x="180.60" y="713.37" width="2.30" height="3.99" fill="#00ff00" stroke="#1a1a1a" stroke-width="0.5"/>
<rect x="166.90" y="717.35" width="13.70" height="3.99" fill="#ff0000" stroke="#1a1a1a" stroke-width="0.5"/>
<rect x="180.60" y="727.33" width="32.50" height="3.99" fill="#0000ff" stroke="#1a1a1a" stroke-width="0.5"/>
<rect x="180.60" y="731.32" width="9.60" height="3.99" fill="#00ff00" stroke="#1a1a1a" stroke-width="0.5"/>
<rect x="173.10" y="735.31" width="7.50" height="3.99" fill="#ff0000" stroke="#1a1a1a" stroke-width="0.5"/>
<rect x="157.30" y="745.29" width="23.30" height="3.99" fill="#0000ff" stroke="#1a1a1a" stroke-width="0.5"/>
<rect x="177.50" y="749.28" width="3.10" height="3.99" fill="#00ff00" stroke="#1a1a1a" stroke-width="0.5"/>
<rect x="178.00" y="753.26" width="2.60" height="3.99" fill="#ff0000" stroke="#1a1a1a" stroke-width="0.5"/>
<rect x="173.40" y="763.24" width="7.20" height="3.99" fill="#0000ff" stroke="#1a1a1a" stroke-width="0.5"/>
<rect x="174.70" y="767.23" width="5.90" height="3.99" fill="#00ff00" stroke="#1a1a1a" stroke-width="0.5"/>
<rect x="175.80" y="771.22" width="4.80" height="3.99" fill="#ff0000" stroke="#1a1a1a" stroke-width="0.5"/>
<rect x="180.60" y="781.20" width="3.90" height="3.99" fill="#0000ff" stroke="#1a1a1a" stroke-width="0.5"/>
<rect x="170.40" y="785.19" width="10.20" height="3.99" fill="#00ff00" stroke="#1a1a1a" stroke-width="0.5"/>
<rect x="180.60" y="789.17" width="3.10" height="3.99" fill="#ff0000" stroke="#1a1a1a" stroke-width="0.5"/>
<rect x="180.60" y="799.15" width="14.00" height="3.99" fill="#0000ff" stroke="#1a1a1a" stroke-width="0.5"/>
<rect x="180.60" y="803.14" width="0.30" height="3.99" fill="#00ff00" stroke="#1a1a1a" stroke-width="0.5"/>
<rect x="175.00" y="807.13" width="5.60" height="3.99" fill="#ff0000" stroke="#1a1a1a" stroke-width="0.5"/>
<rect x="137.00" y="817.11" width="43.60" height="3.99" fill="#0000ff" stroke="#1a1a1a" stroke-width="0.5"/>
<rect x="168.50" y="821.10" width="12.10" height="3.99" fill="#00ff00" stroke="#1a1a1a" stroke-width="0.5"/>
<rect x="180.60" y="825.08" width="10.20" height="3.99" fill="#ff0000" stroke="#1a1a1a" stroke-width="0.5"/>
<rect x="108.40" y="835.06" width="72.20" height="3.99" fill="#0000ff" stroke="#1a1a1a" stroke-width="0.5"/>
<rect x="180.60" y="839.05" width="6.60" height="3.99" fill="#00ff00" stroke="#1a1a1a" stroke-width="0.5"/>
<rect x="180.60" y="843.04" width="32.20" height="3.99" fill="#ff0000" stroke="#1a1a1a" stroke-width="0.5"/>
<rect x="180.60" y="853.02" width="5.00" height="3.99" fill="#0000ff" stroke="#1a1a1a" stroke-width="0.5"/>
<rect x="180.60" y="857.01" width="21.00" height="3.99" fill="#00ff00" stroke="#1a1a1a" stroke-width="0.5"/>
<rect x="176.10" y="860.99" width="4.50" height="3.99" fill="#ff0000" stroke="#1a1a1a" stroke-width="0.5"/>
<rect x="33.50" y="661.45" width="183.90" height="215.15" fill="none" stroke="#777777" stroke-width="1"/>
<path d="M70.28 661.45v2.5M70.28 876.60v-2.5M107.06 661.45v2.5M107.06 876.60v-2.5M143.84 661.45v2.5M143.84 876.60v-2.5M180.62 661.45v2.5M180.62 876.60v-2.5M33.50 679.45h2.5M217.40 679.45h-2.5M33.50 697.41h2.5M217.40 697.41h-2.5M33.50 715.36h2.5M217.40 715.36h-2.5M33.50 733.32h2.5M217.40 733.32h-2.5M33.50 751.27h2.5M217.40 751.27h-2.5M33.50 769.23h2.5M217.40 769.23h-2.5M33.50 787.18h2.5M217.40 787.18h-2.5M33.50 805.13h2.5M217.40 805.13h-2.5M33.50 823.09h2.5M217.40 823.09h-2.5M33.50 841.04h2.5M217.40 841.04h-2.5M33.50 859.00h2.5M217.40 859.00h-2.5" stroke="#777777" stroke-width="0.9" fill="none"/>
<text x="25.09" y="891.80" font-family='"Liberation Sans", sans-serif' font-weight="normal" font-size="10.4" fill="#3a3a3a" textLength="16.67" lengthAdjust="spacingAndGlyphs">-0.4</text>
<text x="61.94" y="891.80" font-family='"Liberation Sans", sans-serif' font-weight="normal" font-size="10.4" fill="#3a3a3a" textLength="16.67" lengthAdjust="spacingAndGlyphs">-0.3</text>
<text x="98.76" y="891.80" font-family='"Liberation Sans", sans-serif' font-weight="normal" font-size="10.4" fill="#3a3a3a" textLength="16.67" lengthAdjust="spacingAndGlyphs">-0.2</text>
<text x="135.53" y="891.80" font-family='"Liberation Sans", sans-serif' font-weight="normal" font-size="10.4" fill="#3a3a3a" textLength="16.67" lengthAdjust="spacingAndGlyphs">-0.1</text>
<text x="177.93" y="891.80" font-family='"Liberation Sans", sans-serif' font-weight="normal" font-size="10.4" fill="#3a3a3a" textLength="5.38" lengthAdjust="spacingAndGlyphs">0</text>
<text x="210.72" y="891.80" font-family='"Liberation Sans", sans-serif' font-weight="normal" font-size="10.4" fill="#3a3a3a" textLength="13.45" lengthAdjust="spacingAndGlyphs">0.1</text>
<text x="125.45" y="906.30" text-anchor="middle" font-family='"Liberation Sans", sans-serif' font-weight="normal" font-size="11.0" fill="#3a3a3a">Strain</text>
<text x="28.70" y="683.65" text-anchor="end" font-family='"Liberation Sans", sans-serif' font-weight="normal" font-size="10.4" fill="#3a3a3a">1</text>
<text x="28.70" y="701.61" text-anchor="end" font-family='"Liberation Sans", sans-serif' font-weight="normal" font-size="10.4" fill="#3a3a3a">2</text>
<text x="28.70" y="719.56" text-anchor="end" font-family='"Liberation Sans", sans-serif' font-weight="normal" font-size="10.4" fill="#3a3a3a">3</text>
<text x="28.70" y="737.52" text-anchor="end" font-family='"Liberation Sans", sans-serif' font-weight="normal" font-size="10.4" fill="#3a3a3a">4</text>
<text x="28.70" y="755.47" text-anchor="end" font-family='"Liberation Sans", sans-serif' font-weight="normal" font-size="10.4" fill="#3a3a3a">5</text>
<text x="28.70" y="773.43" text-anchor="end" font-family='"Liberation Sans", sans-serif' font-weight="normal" font-size="10.4" fill="#3a3a3a">6</text>
<text x="28.70" y="791.38" text-anchor="end" font-family='"Liberation Sans", sans-serif' font-weight="normal" font-size="10.4" fill="#3a3a3a">7</text>
<text x="28.70" y="809.34" text-anchor="end" font-family='"Liberation Sans", sans-serif' font-weight="normal" font-size="10.4" fill="#3a3a3a">8</text>
<text x="28.70" y="827.29" text-anchor="end" font-family='"Liberation Sans", sans-serif' font-weight="normal" font-size="10.4" fill="#3a3a3a">9</text>
<text x="28.70" y="845.25" text-anchor="end" font-family='"Liberation Sans", sans-serif' font-weight="normal" font-size="10.4" fill="#3a3a3a">10</text>
<text x="28.70" y="863.20" text-anchor="end" font-family='"Liberation Sans", sans-serif' font-weight="normal" font-size="10.4" fill="#3a3a3a">11</text>
<text transform="translate(12.00,698.75) rotate(-90)" text-anchor="middle" font-family='"Liberation Sans", sans-serif' font-size="11.3" fill="#3a3a3a">(Proximal)</text>
<text transform="translate(12.00,774.25) rotate(-90)" text-anchor="middle" font-family='"Liberation Sans", sans-serif' font-size="11.3" fill="#3a3a3a">Segment</text>
<text transform="translate(12.00,846.45) rotate(-90)" text-anchor="middle" font-family='"Liberation Sans", sans-serif' font-size="11.3" fill="#3a3a3a">(Distal)</text>
<text x="83.46" y="654.80" font-family='"Liberation Sans", sans-serif' font-weight="bold" font-size="12.0" fill="#1a1a1a" textLength="77.28" lengthAdjust="spacingAndGlyphs">PH 50% MVC</text>
<rect x="43.4" y="749.3" width="99.4" height="45.1" fill="#fff" stroke="#6e6e6e" stroke-width="0.9"/>
<rect x="48.0" y="752.8" width="37.8" height="10.5" fill="#ff0000" stroke="#1a1a1a" stroke-width="0.5"/>
<rect x="48.0" y="767.0" width="37.8" height="10.1" fill="#00ff00" stroke="#1a1a1a" stroke-width="0.5"/>
<rect x="48.0" y="780.8" width="37.8" height="10.2" fill="#0000ff" stroke="#1a1a1a" stroke-width="0.5"/>
<text x="88.30" y="762.70" text-anchor="start" font-family='"Liberation Sans", sans-serif' font-weight="normal" font-size="10.7" fill="#2a2a2a">Soleus</text>
<text x="88.30" y="776.50" text-anchor="start" font-family='"Liberation Sans", sans-serif' font-weight="normal" font-size="10.7" fill="#2a2a2a">Deep</text>
<text x="88.30" y="790.20" text-anchor="start" font-family='"Liberation Sans", sans-serif' font-weight="normal" font-size="10.7" fill="#2a2a2a">Superficial</text>
<rect x="388.00" y="674.53" width="35.60" height="3.98" fill="#0000ff" stroke="#1a1a1a" stroke-width="0.5"/>
<rect x="306.50" y="678.51" width="117.10" height="3.98" fill="#00ff00" stroke="#1a1a1a" stroke-width="0.5"/>
<rect x="322.50" y="682.49" width="101.10" height="3.98" fill="#ff0000" stroke="#1a1a1a" stroke-width="0.5"/>
<rect x="390.80" y="692.43" width="32.80" height="3.98" fill="#0000ff" stroke="#1a1a1a" stroke-width="0.5"/>
<rect x="334.50" y="696.41" width="89.10" height="3.98" fill="#00ff00" stroke="#1a1a1a" stroke-width="0.5"/>
<rect x="374.20" y="700.39" width="49.40" height="3.98" fill="#ff0000" stroke="#1a1a1a" stroke-width="0.5"/>
<rect x="423.60" y="710.33" width="28.00" height="3.98" fill="#0000ff" stroke="#1a1a1a" stroke-width="0.5"/>
<rect x="423.60" y="714.31" width="6.80" height="3.98" fill="#00ff00" stroke="#1a1a1a" stroke-width="0.5"/>
<rect x="403.50" y="718.29" width="20.10" height="3.98" fill="#ff0000" stroke="#1a1a1a" stroke-width="0.5"/>
<rect x="422.00" y="728.23" width="1.60" height="3.98" fill="#0000ff" stroke="#1a1a1a" stroke-width="0.5"/>
<rect x="411.40" y="732.21" width="12.20" height="3.98" fill="#00ff00" stroke="#1a1a1a" stroke-width="0.5"/>
<rect x="423.60" y="736.19" width="9.00" height="3.98" fill="#ff0000" stroke="#1a1a1a" stroke-width="0.5"/>
<rect x="411.10" y="746.13" width="12.50" height="3.98" fill="#0000ff" stroke="#1a1a1a" stroke-width="0.5"/>
<rect x="423.60" y="750.11" width="6.30" height="3.98" fill="#00ff00" stroke="#1a1a1a" stroke-width="0.5"/>
<rect x="419.30" y="754.09" width="4.30" height="3.98" fill="#ff0000" stroke="#1a1a1a" stroke-width="0.5"/>
<rect x="423.60" y="764.03" width="21.00" height="3.98" fill="#0000ff" stroke="#1a1a1a" stroke-width="0.5"/>
<rect x="416.80" y="768.01" width="6.80" height="3.98" fill="#00ff00" stroke="#1a1a1a" stroke-width="0.5"/>
<rect x="423.60" y="771.99" width="4.70" height="3.98" fill="#ff0000" stroke="#1a1a1a" stroke-width="0.5"/>
<rect x="391.60" y="781.93" width="32.00" height="3.98" fill="#0000ff" stroke="#1a1a1a" stroke-width="0.5"/>
<rect x="423.60" y="785.91" width="18.80" height="3.98" fill="#00ff00" stroke="#1a1a1a" stroke-width="0.5"/>
<rect x="423.60" y="789.89" width="10.10" height="3.98" fill="#ff0000" stroke="#1a1a1a" stroke-width="0.5"/>
<rect x="423.60" y="799.83" width="3.30" height="3.98" fill="#0000ff" stroke="#1a1a1a" stroke-width="0.5"/>
<rect x="423.60" y="803.81" width="1.10" height="3.98" fill="#00ff00" stroke="#1a1a1a" stroke-width="0.5"/>
<rect x="423.60" y="807.79" width="2.20" height="3.98" fill="#ff0000" stroke="#1a1a1a" stroke-width="0.5"/>
<rect x="393.20" y="817.73" width="30.40" height="3.98" fill="#0000ff" stroke="#1a1a1a" stroke-width="0.5"/>
<rect x="418.50" y="821.71" width="5.10" height="3.98" fill="#00ff00" stroke="#1a1a1a" stroke-width="0.5"/>
<rect x="423.60" y="825.69" width="28.30" height="3.98" fill="#ff0000" stroke="#1a1a1a" stroke-width="0.5"/>
<rect x="316.30" y="835.63" width="107.30" height="3.98" fill="#0000ff" stroke="#1a1a1a" stroke-width="0.5"/>
<rect x="423.60" y="839.61" width="9.80" height="3.98" fill="#00ff00" stroke="#1a1a1a" stroke-width="0.5"/>
<rect x="423.60" y="843.59" width="11.70" height="3.98" fill="#ff0000" stroke="#1a1a1a" stroke-width="0.5"/>
<rect x="423.60" y="853.53" width="30.20" height="3.98" fill="#0000ff" stroke="#1a1a1a" stroke-width="0.5"/>
<rect x="423.60" y="857.51" width="29.10" height="3.98" fill="#00ff00" stroke="#1a1a1a" stroke-width="0.5"/>
<rect x="418.70" y="861.49" width="4.90" height="3.98" fill="#ff0000" stroke="#1a1a1a" stroke-width="0.5"/>
<rect x="276.50" y="662.50" width="183.20" height="214.80" fill="none" stroke="#777777" stroke-width="1"/>
<path d="M313.14 662.50v2.5M313.14 877.30v-2.5M349.78 662.50v2.5M349.78 877.30v-2.5M386.42 662.50v2.5M386.42 877.30v-2.5M423.06 662.50v2.5M423.06 877.30v-2.5M276.50 680.50h2.5M459.70 680.50h-2.5M276.50 698.40h2.5M459.70 698.40h-2.5M276.50 716.30h2.5M459.70 716.30h-2.5M276.50 734.20h2.5M459.70 734.20h-2.5M276.50 752.10h2.5M459.70 752.10h-2.5M276.50 770.00h2.5M459.70 770.00h-2.5M276.50 787.90h2.5M459.70 787.90h-2.5M276.50 805.80h2.5M459.70 805.80h-2.5M276.50 823.70h2.5M459.70 823.70h-2.5M276.50 841.60h2.5M459.70 841.60h-2.5M276.50 859.50h2.5M459.70 859.50h-2.5" stroke="#777777" stroke-width="0.9" fill="none"/>
<text x="268.09" y="892.50" font-family='"Liberation Sans", sans-serif' font-weight="normal" font-size="10.4" fill="#3a3a3a" textLength="16.67" lengthAdjust="spacingAndGlyphs">-0.4</text>
<text x="304.80" y="892.50" font-family='"Liberation Sans", sans-serif' font-weight="normal" font-size="10.4" fill="#3a3a3a" textLength="16.67" lengthAdjust="spacingAndGlyphs">-0.3</text>
<text x="341.48" y="892.50" font-family='"Liberation Sans", sans-serif' font-weight="normal" font-size="10.4" fill="#3a3a3a" textLength="16.67" lengthAdjust="spacingAndGlyphs">-0.2</text>
<text x="378.11" y="892.50" font-family='"Liberation Sans", sans-serif' font-weight="normal" font-size="10.4" fill="#3a3a3a" textLength="16.67" lengthAdjust="spacingAndGlyphs">-0.1</text>
<text x="420.37" y="892.50" font-family='"Liberation Sans", sans-serif' font-weight="normal" font-size="10.4" fill="#3a3a3a" textLength="5.38" lengthAdjust="spacingAndGlyphs">0</text>
<text x="453.02" y="892.50" font-family='"Liberation Sans", sans-serif' font-weight="normal" font-size="10.4" fill="#3a3a3a" textLength="13.45" lengthAdjust="spacingAndGlyphs">0.1</text>
<text x="368.10" y="907.00" text-anchor="middle" font-family='"Liberation Sans", sans-serif' font-weight="normal" font-size="11.0" fill="#3a3a3a">Strain</text>
<text x="271.70" y="684.70" text-anchor="end" font-family='"Liberation Sans", sans-serif' font-weight="normal" font-size="10.4" fill="#3a3a3a">1</text>
<text x="271.70" y="702.60" text-anchor="end" font-family='"Liberation Sans", sans-serif' font-weight="normal" font-size="10.4" fill="#3a3a3a">2</text>
<text x="271.70" y="720.50" text-anchor="end" font-family='"Liberation Sans", sans-serif' font-weight="normal" font-size="10.4" fill="#3a3a3a">3</text>
<text x="271.70" y="738.40" text-anchor="end" font-family='"Liberation Sans", sans-serif' font-weight="normal" font-size="10.4" fill="#3a3a3a">4</text>
<text x="271.70" y="756.30" text-anchor="end" font-family='"Liberation Sans", sans-serif' font-weight="normal" font-size="10.4" fill="#3a3a3a">5</text>
<text x="271.70" y="774.20" text-anchor="end" font-family='"Liberation Sans", sans-serif' font-weight="normal" font-size="10.4" fill="#3a3a3a">6</text>
<text x="271.70" y="792.10" text-anchor="end" font-family='"Liberation Sans", sans-serif' font-weight="normal" font-size="10.4" fill="#3a3a3a">7</text>
<text x="271.70" y="810.00" text-anchor="end" font-family='"Liberation Sans", sans-serif' font-weight="normal" font-size="10.4" fill="#3a3a3a">8</text>
<text x="271.70" y="827.90" text-anchor="end" font-family='"Liberation Sans", sans-serif' font-weight="normal" font-size="10.4" fill="#3a3a3a">9</text>
<text x="271.70" y="845.80" text-anchor="end" font-family='"Liberation Sans", sans-serif' font-weight="normal" font-size="10.4" fill="#3a3a3a">10</text>
<text x="271.70" y="863.70" text-anchor="end" font-family='"Liberation Sans", sans-serif' font-weight="normal" font-size="10.4" fill="#3a3a3a">11</text>
<text transform="translate(255.00,699.80) rotate(-90)" text-anchor="middle" font-family='"Liberation Sans", sans-serif' font-size="11.3" fill="#3a3a3a">(Proximal)</text>
<text transform="translate(255.00,775.30) rotate(-90)" text-anchor="middle" font-family='"Liberation Sans", sans-serif' font-size="11.3" fill="#3a3a3a">Segment</text>
<text transform="translate(255.00,847.50) rotate(-90)" text-anchor="middle" font-family='"Liberation Sans", sans-serif' font-size="11.3" fill="#3a3a3a">(Distal)</text>
<text x="330.17" y="654.80" font-family='"Liberation Sans", sans-serif' font-weight="bold" font-size="12.0" fill="#1a1a1a" textLength="75.17" lengthAdjust="spacingAndGlyphs">PL 50% MVC</text>
<rect x="646.30" y="675.02" width="22.60" height="3.99" fill="#0000ff" stroke="#1a1a1a" stroke-width="0.5"/>
<rect x="565.40" y="679.01" width="103.50" height="3.99" fill="#00ff00" stroke="#1a1a1a" stroke-width="0.5"/>
<rect x="537.40" y="682.99" width="131.50" height="3.99" fill="#ff0000" stroke="#1a1a1a" stroke-width="0.5"/>
<rect x="655.80" y="692.97" width="13.10" height="3.99" fill="#0000ff" stroke="#1a1a1a" stroke-width="0.5"/>
<rect x="577.30" y="696.96" width="91.60" height="3.99" fill="#00ff00" stroke="#1a1a1a" stroke-width="0.5"/>
<rect x="610.20" y="700.94" width="58.70" height="3.99" fill="#ff0000" stroke="#1a1a1a" stroke-width="0.5"/>
<rect x="667.80" y="710.92" width="1.10" height="3.99" fill="#0000ff" stroke="#1a1a1a" stroke-width="0.5"/>
<rect x="649.30" y="714.91" width="19.60" height="3.99" fill="#00ff00" stroke="#1a1a1a" stroke-width="0.5"/>
<rect x="591.40" y="718.89" width="77.50" height="3.99" fill="#ff0000" stroke="#1a1a1a" stroke-width="0.5"/>
<rect x="667.30" y="728.87" width="1.60" height="3.99" fill="#0000ff" stroke="#1a1a1a" stroke-width="0.5"/>
<rect x="665.10" y="732.86" width="3.80" height="3.99" fill="#00ff00" stroke="#1a1a1a" stroke-width="0.5"/>
<rect x="654.50" y="736.84" width="14.40" height="3.99" fill="#ff0000" stroke="#1a1a1a" stroke-width="0.5"/>
<rect x="668.90" y="746.82" width="11.10" height="3.99" fill="#0000ff" stroke="#1a1a1a" stroke-width="0.5"/>
<rect x="666.40" y="750.81" width="2.50" height="3.99" fill="#00ff00" stroke="#1a1a1a" stroke-width="0.5"/>
<rect x="668.90" y="754.79" width="2.20" height="3.99" fill="#ff0000" stroke="#1a1a1a" stroke-width="0.5"/>
<rect x="663.20" y="764.77" width="5.70" height="3.99" fill="#0000ff" stroke="#1a1a1a" stroke-width="0.5"/>
<rect x="660.20" y="768.76" width="8.70" height="3.99" fill="#00ff00" stroke="#1a1a1a" stroke-width="0.5"/>
<rect x="649.90" y="772.74" width="19.00" height="3.99" fill="#ff0000" stroke="#1a1a1a" stroke-width="0.5"/>
<rect x="658.30" y="782.72" width="10.60" height="3.99" fill="#0000ff" stroke="#1a1a1a" stroke-width="0.5"/>
<rect x="668.90" y="786.71" width="6.00" height="3.99" fill="#00ff00" stroke="#1a1a1a" stroke-width="0.5"/>
<rect x="668.90" y="790.69" width="10.10" height="3.99" fill="#ff0000" stroke="#1a1a1a" stroke-width="0.5"/>
<rect x="649.10" y="800.67" width="19.80" height="3.99" fill="#0000ff" stroke="#1a1a1a" stroke-width="0.5"/>
<rect x="666.70" y="804.66" width="2.20" height="3.99" fill="#00ff00" stroke="#1a1a1a" stroke-width="0.5"/>
<rect x="668.90" y="808.64" width="21.70" height="3.99" fill="#ff0000" stroke="#1a1a1a" stroke-width="0.5"/>
<rect x="609.70" y="818.62" width="59.20" height="3.99" fill="#0000ff" stroke="#1a1a1a" stroke-width="0.5"/>
<rect x="668.90" y="822.61" width="20.10" height="3.99" fill="#00ff00" stroke="#1a1a1a" stroke-width="0.5"/>
<rect x="668.90" y="826.59" width="13.90" height="3.99" fill="#ff0000" stroke="#1a1a1a" stroke-width="0.5"/>
<rect x="609.10" y="836.57" width="59.80" height="3.99" fill="#0000ff" stroke="#1a1a1a" stroke-width="0.5"/>
<rect x="668.90" y="840.56" width="2.70" height="3.99" fill="#00ff00" stroke="#1a1a1a" stroke-width="0.5"/>
<rect x="668.90" y="844.54" width="12.80" height="3.99" fill="#ff0000" stroke="#1a1a1a" stroke-width="0.5"/>
<rect x="630.60" y="854.52" width="38.30" height="3.99" fill="#0000ff" stroke="#1a1a1a" stroke-width="0.5"/>
<rect x="649.10" y="858.51" width="19.80" height="3.99" fill="#00ff00" stroke="#1a1a1a" stroke-width="0.5"/>
<rect x="668.90" y="862.49" width="4.90" height="3.99" fill="#ff0000" stroke="#1a1a1a" stroke-width="0.5"/>
<rect x="520.80" y="663.10" width="184.50" height="215.00" fill="none" stroke="#777777" stroke-width="1"/>
<path d="M557.70 663.10v2.5M557.70 878.10v-2.5M594.60 663.10v2.5M594.60 878.10v-2.5M631.50 663.10v2.5M631.50 878.10v-2.5M668.40 663.10v2.5M668.40 878.10v-2.5M520.80 681.00h2.5M705.30 681.00h-2.5M520.80 698.95h2.5M705.30 698.95h-2.5M520.80 716.90h2.5M705.30 716.90h-2.5M520.80 734.85h2.5M705.30 734.85h-2.5M520.80 752.80h2.5M705.30 752.80h-2.5M520.80 770.75h2.5M705.30 770.75h-2.5M520.80 788.70h2.5M705.30 788.70h-2.5M520.80 806.65h2.5M705.30 806.65h-2.5M520.80 824.60h2.5M705.30 824.60h-2.5M520.80 842.55h2.5M705.30 842.55h-2.5M520.80 860.50h2.5M705.30 860.50h-2.5" stroke="#777777" stroke-width="0.9" fill="none"/>
<text x="512.39" y="893.30" font-family='"Liberation Sans", sans-serif' font-weight="normal" font-size="10.4" fill="#3a3a3a" textLength="16.67" lengthAdjust="spacingAndGlyphs">-0.4</text>
<text x="549.36" y="893.30" font-family='"Liberation Sans", sans-serif' font-weight="normal" font-size="10.4" fill="#3a3a3a" textLength="16.67" lengthAdjust="spacingAndGlyphs">-0.3</text>
<text x="586.30" y="893.30" font-family='"Liberation Sans", sans-serif' font-weight="normal" font-size="10.4" fill="#3a3a3a" textLength="16.67" lengthAdjust="spacingAndGlyphs">-0.2</text>
<text x="623.19" y="893.30" font-family='"Liberation Sans", sans-serif' font-weight="normal" font-size="10.4" fill="#3a3a3a" textLength="16.67" lengthAdjust="spacingAndGlyphs">-0.1</text>
<text x="665.71" y="893.30" font-family='"Liberation Sans", sans-serif' font-weight="normal" font-size="10.4" fill="#3a3a3a" textLength="5.38" lengthAdjust="spacingAndGlyphs">0</text>
<text x="698.62" y="893.30" font-family='"Liberation Sans", sans-serif' font-weight="normal" font-size="10.4" fill="#3a3a3a" textLength="13.45" lengthAdjust="spacingAndGlyphs">0.1</text>
<text x="613.05" y="907.80" text-anchor="middle" font-family='"Liberation Sans", sans-serif' font-weight="normal" font-size="11.0" fill="#3a3a3a">Strain</text>
<text x="516.00" y="685.20" text-anchor="end" font-family='"Liberation Sans", sans-serif' font-weight="normal" font-size="10.4" fill="#3a3a3a">1</text>
<text x="516.00" y="703.15" text-anchor="end" font-family='"Liberation Sans", sans-serif' font-weight="normal" font-size="10.4" fill="#3a3a3a">2</text>
<text x="516.00" y="721.10" text-anchor="end" font-family='"Liberation Sans", sans-serif' font-weight="normal" font-size="10.4" fill="#3a3a3a">3</text>
<text x="516.00" y="739.05" text-anchor="end" font-family='"Liberation Sans", sans-serif' font-weight="normal" font-size="10.4" fill="#3a3a3a">4</text>
<text x="516.00" y="757.00" text-anchor="end" font-family='"Liberation Sans", sans-serif' font-weight="normal" font-size="10.4" fill="#3a3a3a">5</text>
<text x="516.00" y="774.95" text-anchor="end" font-family='"Liberation Sans", sans-serif' font-weight="normal" font-size="10.4" fill="#3a3a3a">6</text>
<text x="516.00" y="792.90" text-anchor="end" font-family='"Liberation Sans", sans-serif' font-weight="normal" font-size="10.4" fill="#3a3a3a">7</text>
<text x="516.00" y="810.85" text-anchor="end" font-family='"Liberation Sans", sans-serif' font-weight="normal" font-size="10.4" fill="#3a3a3a">8</text>
<text x="516.00" y="828.80" text-anchor="end" font-family='"Liberation Sans", sans-serif' font-weight="normal" font-size="10.4" fill="#3a3a3a">9</text>
<text x="516.00" y="846.75" text-anchor="end" font-family='"Liberation Sans", sans-serif' font-weight="normal" font-size="10.4" fill="#3a3a3a">10</text>
<text x="516.00" y="864.70" text-anchor="end" font-family='"Liberation Sans", sans-serif' font-weight="normal" font-size="10.4" fill="#3a3a3a">11</text>
<text transform="translate(499.30,700.40) rotate(-90)" text-anchor="middle" font-family='"Liberation Sans", sans-serif' font-size="11.3" fill="#3a3a3a">(Proximal)</text>
<text transform="translate(499.30,775.90) rotate(-90)" text-anchor="middle" font-family='"Liberation Sans", sans-serif' font-size="11.3" fill="#3a3a3a">Segment</text>
<text transform="translate(499.30,848.10) rotate(-90)" text-anchor="middle" font-family='"Liberation Sans", sans-serif' font-size="11.3" fill="#3a3a3a">(Distal)</text>
<text x="581.06" y="654.80" font-family='"Liberation Sans", sans-serif' font-weight="bold" font-size="12.0" fill="#1a1a1a" textLength="69.29" lengthAdjust="spacingAndGlyphs">D 50% MVC</text>
<rect x="153.30" y="942.52" width="27.40" height="3.98" fill="#0000ff" stroke="#1a1a1a" stroke-width="0.5"/>
<rect x="112.00" y="946.51" width="68.70" height="3.98" fill="#00ff00" stroke="#1a1a1a" stroke-width="0.5"/>
<rect x="127.20" y="950.49" width="53.50" height="3.98" fill="#ff0000" stroke="#1a1a1a" stroke-width="0.5"/>
<rect x="173.70" y="960.45" width="7.00" height="3.98" fill="#0000ff" stroke="#1a1a1a" stroke-width="0.5"/>
<rect x="135.30" y="964.44" width="45.40" height="3.98" fill="#00ff00" stroke="#1a1a1a" stroke-width="0.5"/>
<rect x="167.70" y="968.42" width="13.00" height="3.98" fill="#ff0000" stroke="#1a1a1a" stroke-width="0.5"/>
<rect x="180.70" y="978.38" width="6.30" height="3.98" fill="#0000ff" stroke="#1a1a1a" stroke-width="0.5"/>
<rect x="180.70" y="982.37" width="0.80" height="3.98" fill="#00ff00" stroke="#1a1a1a" stroke-width="0.5"/>
<rect x="176.10" y="986.35" width="4.60" height="3.98" fill="#ff0000" stroke="#1a1a1a" stroke-width="0.5"/>
<rect x="180.70" y="996.31" width="2.20" height="3.98" fill="#0000ff" stroke="#1a1a1a" stroke-width="0.5"/>
<rect x="171.20" y="1000.30" width="9.50" height="3.98" fill="#00ff00" stroke="#1a1a1a" stroke-width="0.5"/>
<rect x="176.60" y="1004.28" width="4.10" height="3.98" fill="#ff0000" stroke="#1a1a1a" stroke-width="0.5"/>
<rect x="175.00" y="1014.24" width="5.70" height="3.98" fill="#0000ff" stroke="#1a1a1a" stroke-width="0.5"/>
<rect x="179.40" y="1018.23" width="1.30" height="3.98" fill="#00ff00" stroke="#1a1a1a" stroke-width="0.5"/>
<rect x="180.70" y="1022.21" width="1.10" height="3.98" fill="#ff0000" stroke="#1a1a1a" stroke-width="0.5"/>
<rect x="180.70" y="1032.17" width="0.30" height="3.98" fill="#0000ff" stroke="#1a1a1a" stroke-width="0.5"/>
<rect x="180.70" y="1036.16" width="7.10" height="3.98" fill="#00ff00" stroke="#1a1a1a" stroke-width="0.5"/>
<rect x="180.70" y="1040.14" width="0.60" height="3.98" fill="#ff0000" stroke="#1a1a1a" stroke-width="0.5"/>
<rect x="178.50" y="1050.10" width="2.20" height="3.98" fill="#0000ff" stroke="#1a1a1a" stroke-width="0.5"/>
<rect x="175.30" y="1054.09" width="5.40" height="3.98" fill="#00ff00" stroke="#1a1a1a" stroke-width="0.5"/>
<rect x="178.50" y="1058.07" width="2.20" height="3.98" fill="#ff0000" stroke="#1a1a1a" stroke-width="0.5"/>
<rect x="171.20" y="1068.03" width="9.50" height="3.98" fill="#0000ff" stroke="#1a1a1a" stroke-width="0.5"/>
<rect x="173.90" y="1072.02" width="6.80" height="3.98" fill="#00ff00" stroke="#1a1a1a" stroke-width="0.5"/>
<rect x="180.70" y="1076.00" width="0.60" height="3.98" fill="#ff0000" stroke="#1a1a1a" stroke-width="0.5"/>
<rect x="158.20" y="1085.96" width="22.50" height="3.98" fill="#0000ff" stroke="#1a1a1a" stroke-width="0.5"/>
<rect x="171.20" y="1089.95" width="9.50" height="3.98" fill="#00ff00" stroke="#1a1a1a" stroke-width="0.5"/>
<rect x="180.70" y="1093.93" width="0.30" height="3.98" fill="#ff0000" stroke="#1a1a1a" stroke-width="0.5"/>
<rect x="135.60" y="1103.89" width="45.10" height="3.98" fill="#0000ff" stroke="#1a1a1a" stroke-width="0.5"/>
<rect x="180.70" y="1107.88" width="1.60" height="3.98" fill="#00ff00" stroke="#1a1a1a" stroke-width="0.5"/>
<rect x="180.70" y="1111.86" width="19.90" height="3.98" fill="#ff0000" stroke="#1a1a1a" stroke-width="0.5"/>
<rect x="164.40" y="1121.82" width="16.30" height="3.98" fill="#0000ff" stroke="#1a1a1a" stroke-width="0.5"/>
<rect x="180.70" y="1125.81" width="9.50" height="3.98" fill="#00ff00" stroke="#1a1a1a" stroke-width="0.5"/>
<rect x="170.10" y="1129.79" width="10.60" height="3.98" fill="#ff0000" stroke="#1a1a1a" stroke-width="0.5"/>
<rect x="33.50" y="930.40" width="183.90" height="214.90" fill="none" stroke="#777777" stroke-width="1"/>
<path d="M70.28 930.40v2.5M70.28 1145.30v-2.5M107.06 930.40v2.5M107.06 1145.30v-2.5M143.84 930.40v2.5M143.84 1145.30v-2.5M180.62 930.40v2.5M180.62 1145.30v-2.5M33.50 948.50h2.5M217.40 948.50h-2.5M33.50 966.43h2.5M217.40 966.43h-2.5M33.50 984.36h2.5M217.40 984.36h-2.5M33.50 1002.29h2.5M217.40 1002.29h-2.5M33.50 1020.22h2.5M217.40 1020.22h-2.5M33.50 1038.15h2.5M217.40 1038.15h-2.5M33.50 1056.08h2.5M217.40 1056.08h-2.5M33.50 1074.01h2.5M217.40 1074.01h-2.5M33.50 1091.94h2.5M217.40 1091.94h-2.5M33.50 1109.87h2.5M217.40 1109.87h-2.5M33.50 1127.80h2.5M217.40 1127.80h-2.5" stroke="#777777" stroke-width="0.9" fill="none"/>
<text x="25.09" y="1160.50" font-family='"Liberation Sans", sans-serif' font-weight="normal" font-size="10.4" fill="#3a3a3a" textLength="16.67" lengthAdjust="spacingAndGlyphs">-0.4</text>
<text x="61.94" y="1160.50" font-family='"Liberation Sans", sans-serif' font-weight="normal" font-size="10.4" fill="#3a3a3a" textLength="16.67" lengthAdjust="spacingAndGlyphs">-0.3</text>
<text x="98.76" y="1160.50" font-family='"Liberation Sans", sans-serif' font-weight="normal" font-size="10.4" fill="#3a3a3a" textLength="16.67" lengthAdjust="spacingAndGlyphs">-0.2</text>
<text x="135.53" y="1160.50" font-family='"Liberation Sans", sans-serif' font-weight="normal" font-size="10.4" fill="#3a3a3a" textLength="16.67" lengthAdjust="spacingAndGlyphs">-0.1</text>
<text x="177.93" y="1160.50" font-family='"Liberation Sans", sans-serif' font-weight="normal" font-size="10.4" fill="#3a3a3a" textLength="5.38" lengthAdjust="spacingAndGlyphs">0</text>
<text x="210.72" y="1160.50" font-family='"Liberation Sans", sans-serif' font-weight="normal" font-size="10.4" fill="#3a3a3a" textLength="13.45" lengthAdjust="spacingAndGlyphs">0.1</text>
<text x="125.45" y="1175.00" text-anchor="middle" font-family='"Liberation Sans", sans-serif' font-weight="normal" font-size="11.0" fill="#3a3a3a">Strain</text>
<text x="28.70" y="952.70" text-anchor="end" font-family='"Liberation Sans", sans-serif' font-weight="normal" font-size="10.4" fill="#3a3a3a">1</text>
<text x="28.70" y="970.63" text-anchor="end" font-family='"Liberation Sans", sans-serif' font-weight="normal" font-size="10.4" fill="#3a3a3a">2</text>
<text x="28.70" y="988.56" text-anchor="end" font-family='"Liberation Sans", sans-serif' font-weight="normal" font-size="10.4" fill="#3a3a3a">3</text>
<text x="28.70" y="1006.49" text-anchor="end" font-family='"Liberation Sans", sans-serif' font-weight="normal" font-size="10.4" fill="#3a3a3a">4</text>
<text x="28.70" y="1024.42" text-anchor="end" font-family='"Liberation Sans", sans-serif' font-weight="normal" font-size="10.4" fill="#3a3a3a">5</text>
<text x="28.70" y="1042.35" text-anchor="end" font-family='"Liberation Sans", sans-serif' font-weight="normal" font-size="10.4" fill="#3a3a3a">6</text>
<text x="28.70" y="1060.28" text-anchor="end" font-family='"Liberation Sans", sans-serif' font-weight="normal" font-size="10.4" fill="#3a3a3a">7</text>
<text x="28.70" y="1078.21" text-anchor="end" font-family='"Liberation Sans", sans-serif' font-weight="normal" font-size="10.4" fill="#3a3a3a">8</text>
<text x="28.70" y="1096.14" text-anchor="end" font-family='"Liberation Sans", sans-serif' font-weight="normal" font-size="10.4" fill="#3a3a3a">9</text>
<text x="28.70" y="1114.07" text-anchor="end" font-family='"Liberation Sans", sans-serif' font-weight="normal" font-size="10.4" fill="#3a3a3a">10</text>
<text x="28.70" y="1132.00" text-anchor="end" font-family='"Liberation Sans", sans-serif' font-weight="normal" font-size="10.4" fill="#3a3a3a">11</text>
<text transform="translate(12.00,967.70) rotate(-90)" text-anchor="middle" font-family='"Liberation Sans", sans-serif' font-size="11.3" fill="#3a3a3a">(Proximal)</text>
<text transform="translate(12.00,1043.20) rotate(-90)" text-anchor="middle" font-family='"Liberation Sans", sans-serif' font-size="11.3" fill="#3a3a3a">Segment</text>
<text transform="translate(12.00,1115.40) rotate(-90)" text-anchor="middle" font-family='"Liberation Sans", sans-serif' font-size="11.3" fill="#3a3a3a">(Distal)</text>
<text x="85.18" y="923.60" font-family='"Liberation Sans", sans-serif' font-weight="bold" font-size="12.0" fill="#1a1a1a" textLength="75.96" lengthAdjust="spacingAndGlyphs">PH 25% MVC</text>
<rect x="388.80" y="943.33" width="34.80" height="3.98" fill="#0000ff" stroke="#1a1a1a" stroke-width="0.5"/>
<rect x="353.50" y="947.31" width="70.10" height="3.98" fill="#00ff00" stroke="#1a1a1a" stroke-width="0.5"/>
<rect x="344.30" y="951.29" width="79.30" height="3.98" fill="#ff0000" stroke="#1a1a1a" stroke-width="0.5"/>
<rect x="423.60" y="961.25" width="2.20" height="3.98" fill="#0000ff" stroke="#1a1a1a" stroke-width="0.5"/>
<rect x="376.10" y="965.23" width="47.50" height="3.98" fill="#00ff00" stroke="#1a1a1a" stroke-width="0.5"/>
<rect x="383.10" y="969.21" width="40.50" height="3.98" fill="#ff0000" stroke="#1a1a1a" stroke-width="0.5"/>
<rect x="423.60" y="979.17" width="4.90" height="3.98" fill="#0000ff" stroke="#1a1a1a" stroke-width="0.5"/>
<rect x="420.90" y="983.15" width="2.70" height="3.98" fill="#00ff00" stroke="#1a1a1a" stroke-width="0.5"/>
<rect x="416.30" y="987.13" width="7.30" height="3.98" fill="#ff0000" stroke="#1a1a1a" stroke-width="0.5"/>
<rect x="423.60" y="997.09" width="1.90" height="3.98" fill="#0000ff" stroke="#1a1a1a" stroke-width="0.5"/>
<rect x="419.60" y="1001.07" width="4.00" height="3.98" fill="#00ff00" stroke="#1a1a1a" stroke-width="0.5"/>
<rect x="423.60" y="1005.05" width="8.70" height="3.98" fill="#ff0000" stroke="#1a1a1a" stroke-width="0.5"/>
<rect x="418.70" y="1015.01" width="4.90" height="3.98" fill="#0000ff" stroke="#1a1a1a" stroke-width="0.5"/>
<rect x="421.20" y="1018.99" width="2.40" height="3.98" fill="#00ff00" stroke="#1a1a1a" stroke-width="0.5"/>
<rect x="420.60" y="1022.97" width="3.00" height="3.98" fill="#ff0000" stroke="#1a1a1a" stroke-width="0.5"/>
<rect x="421.20" y="1032.93" width="2.40" height="3.98" fill="#0000ff" stroke="#1a1a1a" stroke-width="0.5"/>
<rect x="423.60" y="1036.91" width="1.70" height="3.98" fill="#00ff00" stroke="#1a1a1a" stroke-width="0.5"/>
<rect x="422.50" y="1040.89" width="1.10" height="3.98" fill="#ff0000" stroke="#1a1a1a" stroke-width="0.5"/>
<rect x="423.60" y="1050.85" width="11.40" height="3.98" fill="#0000ff" stroke="#1a1a1a" stroke-width="0.5"/>
<rect x="419.00" y="1054.83" width="4.60" height="3.98" fill="#00ff00" stroke="#1a1a1a" stroke-width="0.5"/>
<rect x="421.20" y="1058.81" width="2.40" height="3.98" fill="#ff0000" stroke="#1a1a1a" stroke-width="0.5"/>
<rect x="423.60" y="1068.77" width="17.70" height="3.98" fill="#0000ff" stroke="#1a1a1a" stroke-width="0.5"/>
<rect x="423.00" y="1072.75" width="0.60" height="3.98" fill="#00ff00" stroke="#1a1a1a" stroke-width="0.5"/>
<rect x="423.60" y="1076.73" width="3.00" height="3.98" fill="#ff0000" stroke="#1a1a1a" stroke-width="0.5"/>
<rect x="378.50" y="1086.69" width="45.10" height="3.98" fill="#0000ff" stroke="#1a1a1a" stroke-width="0.5"/>
<rect x="414.40" y="1090.67" width="9.20" height="3.98" fill="#00ff00" stroke="#1a1a1a" stroke-width="0.5"/>
<rect x="423.60" y="1094.65" width="31.00" height="3.98" fill="#ff0000" stroke="#1a1a1a" stroke-width="0.5"/>
<rect x="356.50" y="1104.61" width="67.10" height="3.98" fill="#0000ff" stroke="#1a1a1a" stroke-width="0.5"/>
<rect x="423.60" y="1108.59" width="13.30" height="3.98" fill="#00ff00" stroke="#1a1a1a" stroke-width="0.5"/>
<rect x="423.60" y="1112.57" width="3.80" height="3.98" fill="#ff0000" stroke="#1a1a1a" stroke-width="0.5"/>
<rect x="423.60" y="1122.53" width="7.10" height="3.98" fill="#0000ff" stroke="#1a1a1a" stroke-width="0.5"/>
<rect x="423.60" y="1126.51" width="4.90" height="3.98" fill="#00ff00" stroke="#1a1a1a" stroke-width="0.5"/>
<rect x="414.10" y="1130.49" width="9.50" height="3.98" fill="#ff0000" stroke="#1a1a1a" stroke-width="0.5"/>
<rect x="276.50" y="931.40" width="183.20" height="214.30" fill="none" stroke="#777777" stroke-width="1"/>
<path d="M313.14 931.40v2.5M313.14 1145.70v-2.5M349.78 931.40v2.5M349.78 1145.70v-2.5M386.42 931.40v2.5M386.42 1145.70v-2.5M423.06 931.40v2.5M423.06 1145.70v-2.5M276.50 949.30h2.5M459.70 949.30h-2.5M276.50 967.22h2.5M459.70 967.22h-2.5M276.50 985.14h2.5M459.70 985.14h-2.5M276.50 1003.06h2.5M459.70 1003.06h-2.5M276.50 1020.98h2.5M459.70 1020.98h-2.5M276.50 1038.90h2.5M459.70 1038.90h-2.5M276.50 1056.82h2.5M459.70 1056.82h-2.5M276.50 1074.74h2.5M459.70 1074.74h-2.5M276.50 1092.66h2.5M459.70 1092.66h-2.5M276.50 1110.58h2.5M459.70 1110.58h-2.5M276.50 1128.50h2.5M459.70 1128.50h-2.5" stroke="#777777" stroke-width="0.9" fill="none"/>
<text x="268.09" y="1160.90" font-family='"Liberation Sans", sans-serif' font-weight="normal" font-size="10.4" fill="#3a3a3a" textLength="16.67" lengthAdjust="spacingAndGlyphs">-0.4</text>
<text x="304.80" y="1160.90" font-family='"Liberation Sans", sans-serif' font-weight="normal" font-size="10.4" fill="#3a3a3a" textLength="16.67" lengthAdjust="spacingAndGlyphs">-0.3</text>
<text x="341.48" y="1160.90" font-family='"Liberation Sans", sans-serif' font-weight="normal" font-size="10.4" fill="#3a3a3a" textLength="16.67" lengthAdjust="spacingAndGlyphs">-0.2</text>
<text x="378.11" y="1160.90" font-family='"Liberation Sans", sans-serif' font-weight="normal" font-size="10.4" fill="#3a3a3a" textLength="16.67" lengthAdjust="spacingAndGlyphs">-0.1</text>
<text x="420.37" y="1160.90" font-family='"Liberation Sans", sans-serif' font-weight="normal" font-size="10.4" fill="#3a3a3a" textLength="5.38" lengthAdjust="spacingAndGlyphs">0</text>
<text x="453.02" y="1160.90" font-family='"Liberation Sans", sans-serif' font-weight="normal" font-size="10.4" fill="#3a3a3a" textLength="13.45" lengthAdjust="spacingAndGlyphs">0.1</text>
<text x="368.10" y="1175.40" text-anchor="middle" font-family='"Liberation Sans", sans-serif' font-weight="normal" font-size="11.0" fill="#3a3a3a">Strain</text>
<text x="271.70" y="953.50" text-anchor="end" font-family='"Liberation Sans", sans-serif' font-weight="normal" font-size="10.4" fill="#3a3a3a">1</text>
<text x="271.70" y="971.42" text-anchor="end" font-family='"Liberation Sans", sans-serif' font-weight="normal" font-size="10.4" fill="#3a3a3a">2</text>
<text x="271.70" y="989.34" text-anchor="end" font-family='"Liberation Sans", sans-serif' font-weight="normal" font-size="10.4" fill="#3a3a3a">3</text>
<text x="271.70" y="1007.26" text-anchor="end" font-family='"Liberation Sans", sans-serif' font-weight="normal" font-size="10.4" fill="#3a3a3a">4</text>
<text x="271.70" y="1025.18" text-anchor="end" font-family='"Liberation Sans", sans-serif' font-weight="normal" font-size="10.4" fill="#3a3a3a">5</text>
<text x="271.70" y="1043.10" text-anchor="end" font-family='"Liberation Sans", sans-serif' font-weight="normal" font-size="10.4" fill="#3a3a3a">6</text>
<text x="271.70" y="1061.02" text-anchor="end" font-family='"Liberation Sans", sans-serif' font-weight="normal" font-size="10.4" fill="#3a3a3a">7</text>
<text x="271.70" y="1078.94" text-anchor="end" font-family='"Liberation Sans", sans-serif' font-weight="normal" font-size="10.4" fill="#3a3a3a">8</text>
<text x="271.70" y="1096.86" text-anchor="end" font-family='"Liberation Sans", sans-serif' font-weight="normal" font-size="10.4" fill="#3a3a3a">9</text>
<text x="271.70" y="1114.78" text-anchor="end" font-family='"Liberation Sans", sans-serif' font-weight="normal" font-size="10.4" fill="#3a3a3a">10</text>
<text x="271.70" y="1132.70" text-anchor="end" font-family='"Liberation Sans", sans-serif' font-weight="normal" font-size="10.4" fill="#3a3a3a">11</text>
<text transform="translate(255.00,968.70) rotate(-90)" text-anchor="middle" font-family='"Liberation Sans", sans-serif' font-size="11.3" fill="#3a3a3a">(Proximal)</text>
<text transform="translate(255.00,1044.20) rotate(-90)" text-anchor="middle" font-family='"Liberation Sans", sans-serif' font-size="11.3" fill="#3a3a3a">Segment</text>
<text transform="translate(255.00,1116.40) rotate(-90)" text-anchor="middle" font-family='"Liberation Sans", sans-serif' font-size="11.3" fill="#3a3a3a">(Distal)</text>
<text x="331.59" y="923.40" font-family='"Liberation Sans", sans-serif' font-weight="bold" font-size="12.0" fill="#1a1a1a" textLength="73.44" lengthAdjust="spacingAndGlyphs">PL 25% MVC</text>
<rect x="645.50" y="943.41" width="23.40" height="4.00" fill="#0000ff" stroke="#1a1a1a" stroke-width="0.5"/>
<rect x="600.40" y="947.40" width="68.50" height="4.00" fill="#00ff00" stroke="#1a1a1a" stroke-width="0.5"/>
<rect x="573.50" y="951.40" width="95.40" height="4.00" fill="#ff0000" stroke="#1a1a1a" stroke-width="0.5"/>
<rect x="657.50" y="961.39" width="11.40" height="4.00" fill="#0000ff" stroke="#1a1a1a" stroke-width="0.5"/>
<rect x="618.90" y="965.38" width="50.00" height="4.00" fill="#00ff00" stroke="#1a1a1a" stroke-width="0.5"/>
<rect x="654.20" y="969.38" width="14.70" height="4.00" fill="#ff0000" stroke="#1a1a1a" stroke-width="0.5"/>
<rect x="668.90" y="979.37" width="1.60" height="4.00" fill="#0000ff" stroke="#1a1a1a" stroke-width="0.5"/>
<rect x="668.90" y="983.36" width="0.30" height="4.00" fill="#00ff00" stroke="#1a1a1a" stroke-width="0.5"/>
<rect x="639.80" y="987.36" width="29.10" height="4.00" fill="#ff0000" stroke="#1a1a1a" stroke-width="0.5"/>
<rect x="668.90" y="997.35" width="3.80" height="4.00" fill="#0000ff" stroke="#1a1a1a" stroke-width="0.5"/>
<rect x="658.00" y="1001.34" width="10.90" height="4.00" fill="#00ff00" stroke="#1a1a1a" stroke-width="0.5"/>
<rect x="658.60" y="1005.34" width="10.30" height="4.00" fill="#ff0000" stroke="#1a1a1a" stroke-width="0.5"/>
<rect x="660.50" y="1015.33" width="8.40" height="4.00" fill="#0000ff" stroke="#1a1a1a" stroke-width="0.5"/>
<rect x="652.60" y="1019.32" width="16.30" height="4.00" fill="#00ff00" stroke="#1a1a1a" stroke-width="0.5"/>
<rect x="656.40" y="1023.32" width="12.50" height="4.00" fill="#ff0000" stroke="#1a1a1a" stroke-width="0.5"/>
<rect x="668.90" y="1033.31" width="8.40" height="4.00" fill="#0000ff" stroke="#1a1a1a" stroke-width="0.5"/>
<rect x="664.30" y="1037.30" width="4.60" height="4.00" fill="#00ff00" stroke="#1a1a1a" stroke-width="0.5"/>
<rect x="668.90" y="1041.30" width="0.60" height="4.00" fill="#ff0000" stroke="#1a1a1a" stroke-width="0.5"/>
<rect x="666.70" y="1051.29" width="2.20" height="4.00" fill="#0000ff" stroke="#1a1a1a" stroke-width="0.5"/>
<rect x="668.90" y="1055.28" width="4.10" height="4.00" fill="#00ff00" stroke="#1a1a1a" stroke-width="0.5"/>
<rect x="668.90" y="1059.28" width="2.20" height="4.00" fill="#ff0000" stroke="#1a1a1a" stroke-width="0.5"/>
<rect x="664.30" y="1069.27" width="4.60" height="4.00" fill="#0000ff" stroke="#1a1a1a" stroke-width="0.5"/>
<rect x="668.90" y="1073.26" width="1.90" height="4.00" fill="#00ff00" stroke="#1a1a1a" stroke-width="0.5"/>
<rect x="668.90" y="1077.26" width="9.50" height="4.00" fill="#ff0000" stroke="#1a1a1a" stroke-width="0.5"/>
<rect x="633.00" y="1087.25" width="35.90" height="4.00" fill="#0000ff" stroke="#1a1a1a" stroke-width="0.5"/>
<rect x="668.90" y="1091.24" width="1.90" height="4.00" fill="#00ff00" stroke="#1a1a1a" stroke-width="0.5"/>
<rect x="668.90" y="1095.24" width="23.60" height="4.00" fill="#ff0000" stroke="#1a1a1a" stroke-width="0.5"/>
<rect x="631.90" y="1105.23" width="37.00" height="4.00" fill="#0000ff" stroke="#1a1a1a" stroke-width="0.5"/>
<rect x="668.90" y="1109.22" width="12.20" height="4.00" fill="#00ff00" stroke="#1a1a1a" stroke-width="0.5"/>
<rect x="668.90" y="1113.22" width="4.60" height="4.00" fill="#ff0000" stroke="#1a1a1a" stroke-width="0.5"/>
<rect x="652.90" y="1123.21" width="16.00" height="4.00" fill="#0000ff" stroke="#1a1a1a" stroke-width="0.5"/>
<rect x="668.90" y="1127.20" width="5.20" height="4.00" fill="#00ff00" stroke="#1a1a1a" stroke-width="0.5"/>
<rect x="656.40" y="1131.20" width="12.50" height="4.00" fill="#ff0000" stroke="#1a1a1a" stroke-width="0.5"/>
<rect x="520.90" y="932.20" width="184.50" height="214.20" fill="none" stroke="#777777" stroke-width="1"/>
<path d="M557.80 932.20v2.5M557.80 1146.40v-2.5M594.70 932.20v2.5M594.70 1146.40v-2.5M631.60 932.20v2.5M631.60 1146.40v-2.5M668.50 932.20v2.5M668.50 1146.40v-2.5M520.90 949.40h2.5M705.40 949.40h-2.5M520.90 967.38h2.5M705.40 967.38h-2.5M520.90 985.36h2.5M705.40 985.36h-2.5M520.90 1003.34h2.5M705.40 1003.34h-2.5M520.90 1021.32h2.5M705.40 1021.32h-2.5M520.90 1039.30h2.5M705.40 1039.30h-2.5M520.90 1057.28h2.5M705.40 1057.28h-2.5M520.90 1075.26h2.5M705.40 1075.26h-2.5M520.90 1093.24h2.5M705.40 1093.24h-2.5M520.90 1111.22h2.5M705.40 1111.22h-2.5M520.90 1129.20h2.5M705.40 1129.20h-2.5" stroke="#777777" stroke-width="0.9" fill="none"/>
<text x="512.49" y="1161.60" font-family='"Liberation Sans", sans-serif' font-weight="normal" font-size="10.4" fill="#3a3a3a" textLength="16.67" lengthAdjust="spacingAndGlyphs">-0.4</text>
<text x="549.46" y="1161.60" font-family='"Liberation Sans", sans-serif' font-weight="normal" font-size="10.4" fill="#3a3a3a" textLength="16.67" lengthAdjust="spacingAndGlyphs">-0.3</text>
<text x="586.40" y="1161.60" font-family='"Liberation Sans", sans-serif' font-weight="normal" font-size="10.4" fill="#3a3a3a" textLength="16.67" lengthAdjust="spacingAndGlyphs">-0.2</text>
<text x="623.29" y="1161.60" font-family='"Liberation Sans", sans-serif' font-weight="normal" font-size="10.4" fill="#3a3a3a" textLength="16.67" lengthAdjust="spacingAndGlyphs">-0.1</text>
<text x="665.81" y="1161.60" font-family='"Liberation Sans", sans-serif' font-weight="normal" font-size="10.4" fill="#3a3a3a" textLength="5.38" lengthAdjust="spacingAndGlyphs">0</text>
<text x="698.72" y="1161.60" font-family='"Liberation Sans", sans-serif' font-weight="normal" font-size="10.4" fill="#3a3a3a" textLength="13.45" lengthAdjust="spacingAndGlyphs">0.1</text>
<text x="613.15" y="1176.10" text-anchor="middle" font-family='"Liberation Sans", sans-serif' font-weight="normal" font-size="11.0" fill="#3a3a3a">Strain</text>
<text x="516.10" y="953.60" text-anchor="end" font-family='"Liberation Sans", sans-serif' font-weight="normal" font-size="10.4" fill="#3a3a3a">1</text>
<text x="516.10" y="971.58" text-anchor="end" font-family='"Liberation Sans", sans-serif' font-weight="normal" font-size="10.4" fill="#3a3a3a">2</text>
<text x="516.10" y="989.56" text-anchor="end" font-family='"Liberation Sans", sans-serif' font-weight="normal" font-size="10.4" fill="#3a3a3a">3</text>
<text x="516.10" y="1007.54" text-anchor="end" font-family='"Liberation Sans", sans-serif' font-weight="normal" font-size="10.4" fill="#3a3a3a">4</text>
<text x="516.10" y="1025.52" text-anchor="end" font-family='"Liberation Sans", sans-serif' font-weight="normal" font-size="10.4" fill="#3a3a3a">5</text>
<text x="516.10" y="1043.50" text-anchor="end" font-family='"Liberation Sans", sans-serif' font-weight="normal" font-size="10.4" fill="#3a3a3a">6</text>
<text x="516.10" y="1061.48" text-anchor="end" font-family='"Liberation Sans", sans-serif' font-weight="normal" font-size="10.4" fill="#3a3a3a">7</text>
<text x="516.10" y="1079.46" text-anchor="end" font-family='"Liberation Sans", sans-serif' font-weight="normal" font-size="10.4" fill="#3a3a3a">8</text>
<text x="516.10" y="1097.44" text-anchor="end" font-family='"Liberation Sans", sans-serif' font-weight="normal" font-size="10.4" fill="#3a3a3a">9</text>
<text x="516.10" y="1115.42" text-anchor="end" font-family='"Liberation Sans", sans-serif' font-weight="normal" font-size="10.4" fill="#3a3a3a">10</text>
<text x="516.10" y="1133.40" text-anchor="end" font-family='"Liberation Sans", sans-serif' font-weight="normal" font-size="10.4" fill="#3a3a3a">11</text>
<text transform="translate(499.40,969.50) rotate(-90)" text-anchor="middle" font-family='"Liberation Sans", sans-serif' font-size="11.3" fill="#3a3a3a">(Proximal)</text>
<text transform="translate(499.40,1045.00) rotate(-90)" text-anchor="middle" font-family='"Liberation Sans", sans-serif' font-size="11.3" fill="#3a3a3a">Segment</text>
<text transform="translate(499.40,1117.20) rotate(-90)" text-anchor="middle" font-family='"Liberation Sans", sans-serif' font-size="11.3" fill="#3a3a3a">(Distal)</text>
<text x="582.78" y="923.60" font-family='"Liberation Sans", sans-serif' font-weight="bold" font-size="12.0" fill="#1a1a1a" textLength="67.56" lengthAdjust="spacingAndGlyphs">D 25% MVC</text>
</svg>
</body></html>
